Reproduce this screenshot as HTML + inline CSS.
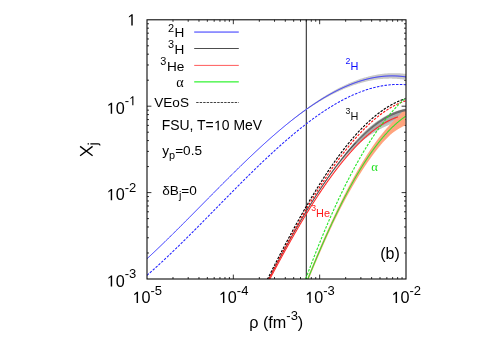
<!DOCTYPE html>
<html><head><meta charset="utf-8"><title>chart</title>
<style>html,body{margin:0;padding:0;background:#fff}body{width:498px;height:349px;overflow:hidden;font-family:"Liberation Sans",sans-serif}svg text{font-family:"Liberation Sans",sans-serif}</style></head>
<body>
<svg width="498" height="349" viewBox="0 0 498 349" style="display:block;font-family:'Liberation Sans',sans-serif;will-change:transform">
<rect width="498" height="349" fill="#fff"/>
<defs><clipPath id="c"><rect x="147.0" y="19.8" width="259.0" height="259.2"/></clipPath></defs>
<path d="M172.99,279.0v-2.0M172.99,19.8v2.0M147.0,80.19h2.0M406.0,80.19h-2.0M188.19,279.0v-2.0M188.19,19.8v2.0M147.0,64.98h2.0M406.0,64.98h-2.0M198.98,279.0v-2.0M198.98,19.8v2.0M147.0,54.18h2.0M406.0,54.18h-2.0M207.34,279.0v-2.0M207.34,19.8v2.0M147.0,45.81h2.0M406.0,45.81h-2.0M214.18,279.0v-2.0M214.18,19.8v2.0M147.0,38.97h2.0M406.0,38.97h-2.0M219.96,279.0v-2.0M219.96,19.8v2.0M147.0,33.18h2.0M406.0,33.18h-2.0M224.97,279.0v-2.0M224.97,19.8v2.0M147.0,28.17h2.0M406.0,28.17h-2.0M229.38,279.0v-2.0M229.38,19.8v2.0M147.0,23.75h2.0M406.0,23.75h-2.0M233.33,279.0v-4.4M233.33,19.8v4.4M147.0,106.20h4.4M406.0,106.20h-4.4M259.32,279.0v-2.0M259.32,19.8v2.0M147.0,166.59h2.0M406.0,166.59h-2.0M274.52,279.0v-2.0M274.52,19.8v2.0M147.0,151.38h2.0M406.0,151.38h-2.0M285.31,279.0v-2.0M285.31,19.8v2.0M147.0,140.58h2.0M406.0,140.58h-2.0M293.68,279.0v-2.0M293.68,19.8v2.0M147.0,132.21h2.0M406.0,132.21h-2.0M300.51,279.0v-2.0M300.51,19.8v2.0M147.0,125.37h2.0M406.0,125.37h-2.0M306.29,279.0v-2.0M306.29,19.8v2.0M147.0,119.58h2.0M406.0,119.58h-2.0M311.30,279.0v-2.0M311.30,19.8v2.0M147.0,114.57h2.0M406.0,114.57h-2.0M315.72,279.0v-2.0M315.72,19.8v2.0M147.0,110.15h2.0M406.0,110.15h-2.0M319.67,279.0v-4.4M319.67,19.8v4.4M147.0,192.60h4.4M406.0,192.60h-4.4M345.66,279.0v-2.0M345.66,19.8v2.0M147.0,252.99h2.0M406.0,252.99h-2.0M360.86,279.0v-2.0M360.86,19.8v2.0M147.0,237.78h2.0M406.0,237.78h-2.0M371.64,279.0v-2.0M371.64,19.8v2.0M147.0,226.98h2.0M406.0,226.98h-2.0M380.01,279.0v-2.0M380.01,19.8v2.0M147.0,218.61h2.0M406.0,218.61h-2.0M386.85,279.0v-2.0M386.85,19.8v2.0M147.0,211.77h2.0M406.0,211.77h-2.0M392.63,279.0v-2.0M392.63,19.8v2.0M147.0,205.98h2.0M406.0,205.98h-2.0M397.63,279.0v-2.0M397.63,19.8v2.0M147.0,200.97h2.0M406.0,200.97h-2.0M402.05,279.0v-2.0M402.05,19.8v2.0M147.0,196.55h2.0M406.0,196.55h-2.0" stroke="#000" stroke-width="0.8" fill="none"/>
<line x1="306.29" y1="19.8" x2="306.29" y2="279.0" stroke="#1a1a1a" stroke-width="1"/>
<g clip-path="url(#c)" fill="none" stroke-linejoin="round">
<path d="M147.00,258.73 L147.65,258.12 L148.30,257.52 L148.95,256.92 L149.60,256.32 L150.25,255.71 L150.89,255.10 L151.54,254.50 L152.19,253.89 L152.84,253.28 L153.49,252.66 L154.14,252.05 L154.79,251.44 L155.44,250.82 L156.09,250.21 L156.74,249.59 L157.39,248.97 L158.04,248.35 L158.68,247.73 L159.33,247.11 L159.98,246.49 L160.63,245.86 L161.28,245.24 L161.93,244.61 L162.58,243.98 L163.23,243.36 L163.88,242.73 L164.53,242.10 L165.18,241.47 L165.82,240.84 L166.47,240.20 L167.12,239.57 L167.77,238.94 L168.42,238.30 L169.07,237.66 L169.72,237.03 L170.37,236.39 L171.02,235.75 L171.67,235.11 L172.32,234.47 L172.96,233.83 L173.61,233.19 L174.26,232.55 L174.91,231.91 L175.56,231.26 L176.21,230.62 L176.86,229.97 L177.51,229.33 L178.16,228.68 L178.81,228.04 L179.46,227.39 L180.11,226.74 L180.75,226.09 L181.40,225.45 L182.05,224.80 L182.70,224.15 L183.35,223.50 L184.00,222.85 L184.65,222.19 L185.30,221.54 L185.95,220.89 L186.60,220.24 L187.25,219.59 L187.89,218.93 L188.54,218.28 L189.19,217.63 L189.84,216.97 L190.49,216.32 L191.14,215.66 L191.79,215.01 L192.44,214.35 L193.09,213.70 L193.74,213.04 L194.39,212.38 L195.04,211.73 L195.68,211.07 L196.33,210.41 L196.98,209.76 L197.63,209.10 L198.28,208.44 L198.93,207.79 L199.58,207.13 L200.23,206.47 L200.88,205.81 L201.53,205.16 L202.18,204.50 L202.82,203.84 L203.47,203.18 L204.12,202.52 L204.77,201.87 L205.42,201.21 L206.07,200.55 L206.72,199.89 L207.37,199.24 L208.02,198.58 L208.67,197.92 L209.32,197.27 L209.96,196.61 L210.61,195.95 L211.26,195.30 L211.91,194.64 L212.56,193.98 L213.21,193.33 L213.86,192.67 L214.51,192.02 L215.16,191.36 L215.81,190.71 L216.46,190.05 L217.11,189.40 L217.75,188.74 L218.40,188.09 L219.05,187.44 L219.70,186.78 L220.35,186.13 L221.00,185.48 L221.65,184.83 L222.30,184.18 L222.95,183.53 L223.60,182.88 L224.25,182.23 L224.89,181.58 L225.54,180.93 L226.19,180.28 L226.84,179.63 L227.49,178.98 L228.14,178.34 L228.79,177.69 L229.44,177.05 L230.09,176.40 L230.74,175.76 L231.39,175.12 L232.04,174.47 L232.68,173.83 L233.33,173.19 L233.98,172.55 L234.63,171.91 L235.28,171.27 L235.93,170.63 L236.58,169.99 L237.23,169.36 L237.88,168.72 L238.53,168.09 L239.18,167.45 L239.82,166.82 L240.47,166.19 L241.12,165.56 L241.77,164.92 L242.42,164.29 L243.07,163.67 L243.72,163.04 L244.37,162.41 L245.02,161.79 L245.67,161.16 L246.32,160.54 L246.96,159.91 L247.61,159.29 L248.26,158.67 L248.91,158.05 L249.56,157.43 L250.21,156.82 L250.86,156.20 L251.51,155.58 L252.16,154.97 L252.81,154.36 L253.46,153.75 L254.11,153.14 L254.75,152.53 L255.40,151.92 L256.05,151.31 L256.70,150.71 L257.35,150.10 L258.00,149.50 L258.65,148.90 L259.30,148.30 L259.95,147.70 L260.60,147.10 L261.25,146.50 L261.89,145.91 L262.54,145.32 L263.19,144.72 L263.84,144.13 L264.49,143.54 L265.14,142.96 L265.79,142.37 L266.44,141.79 L267.09,141.20 L267.74,140.62 L268.39,140.04 L269.04,139.46 L269.68,138.89 L270.33,138.31 L270.98,137.74 L271.63,137.16 L272.28,136.59 L272.93,136.03 L273.58,135.46 L274.23,134.89 L274.88,134.33 L275.53,133.77 L276.18,133.21 L276.82,132.65 L277.47,132.09 L278.12,131.54 L278.77,130.98 L279.42,130.43 L280.07,129.88 L280.72,129.33 L281.37,128.79 L282.02,128.24 L282.67,127.70 L283.32,127.16 L283.96,126.62 L284.61,126.09 L285.26,125.54 L285.91,124.99 L286.56,124.44 L287.21,123.89 L287.86,123.34 L288.51,122.80 L289.16,122.26 L289.81,121.71 L290.46,121.18 L291.11,120.64 L291.75,120.10 L292.40,119.57 L293.05,119.04 L293.70,118.51 L294.35,117.99 L295.00,117.46 L295.65,116.94 L296.30,116.42 L296.95,115.90 L297.60,115.39 L298.25,114.87 L298.89,114.36 L299.54,113.85 L300.19,113.35 L300.84,112.85 L301.49,112.34 L302.14,111.84 L302.79,111.35 L303.44,110.85 L304.09,110.36 L304.74,109.87 L305.39,109.38 L306.04,108.90 L306.68,108.42 L307.33,107.94 L307.98,107.46 L308.63,106.99 L309.28,106.51 L309.93,106.04 L310.58,105.58 L311.23,105.12 L311.88,104.66 L312.53,104.21 L313.18,103.75 L313.82,103.30 L314.47,102.85 L315.12,102.41 L315.77,101.97 L316.42,101.53 L317.07,101.09 L317.72,100.65 L318.37,100.22 L319.02,99.79 L319.67,99.37 L320.32,98.94 L320.96,98.52 L321.61,98.10 L322.26,97.69 L322.91,97.28 L323.56,96.87 L324.21,96.46 L324.86,96.06 L325.51,95.66 L326.16,95.26 L326.81,94.86 L327.46,94.47 L328.11,94.08 L328.75,93.70 L329.40,93.32 L330.05,92.94 L330.70,92.56 L331.35,92.19 L332.00,91.81 L332.65,91.45 L333.30,91.08 L333.95,90.72 L334.60,90.36 L335.25,90.01 L335.89,89.66 L336.54,89.31 L337.19,88.96 L337.84,88.62 L338.49,88.28 L339.14,87.94 L339.79,87.61 L340.44,87.28 L341.09,86.96 L341.74,86.64 L342.39,86.32 L343.04,86.00 L343.68,85.69 L344.33,85.38 L344.98,85.08 L345.63,84.78 L346.28,84.48 L346.93,84.18 L347.58,83.89 L348.23,83.60 L348.88,83.32 L349.53,83.04 L350.18,82.76 L350.82,82.49 L351.47,82.22 L352.12,81.95 L352.77,81.69 L353.42,81.43 L354.07,81.17 L354.72,80.92 L355.37,80.67 L356.02,80.42 L356.67,80.19 L357.32,79.95 L357.96,79.72 L358.61,79.49 L359.26,79.27 L359.91,79.05 L360.56,78.83 L361.21,78.62 L361.86,78.41 L362.51,78.21 L363.16,78.00 L363.81,77.81 L364.46,77.61 L365.11,77.42 L365.75,77.24 L366.40,77.06 L367.05,76.88 L367.70,76.70 L368.35,76.53 L369.00,76.37 L369.65,76.20 L370.30,76.05 L370.95,75.89 L371.60,75.74 L372.25,75.60 L372.89,75.45 L373.54,75.31 L374.19,75.18 L374.84,75.05 L375.49,74.92 L376.14,74.80 L376.79,74.69 L377.44,74.57 L378.09,74.46 L378.74,74.36 L379.39,74.26 L380.04,74.16 L380.68,74.07 L381.33,73.98 L381.98,73.90 L382.63,73.82 L383.28,73.74 L383.93,73.67 L384.58,73.60 L385.23,73.54 L385.88,73.48 L386.53,73.43 L387.18,73.38 L387.82,73.33 L388.47,73.29 L389.12,73.26 L389.77,73.23 L390.42,73.20 L391.07,73.18 L391.72,73.16 L392.37,73.15 L393.02,73.14 L393.67,73.14 L394.32,73.14 L394.96,73.14 L395.61,73.15 L396.26,73.17 L396.91,73.19 L397.56,73.21 L398.21,73.24 L398.86,73.27 L399.51,73.31 L400.16,73.36 L400.81,73.40 L401.46,73.46 L402.11,73.51 L402.75,73.57 L403.40,73.64 L404.05,73.71 L404.70,73.79 L405.35,73.87 L406.00,73.96 L406.00,79.96 L405.35,79.84 L404.70,79.74 L404.05,79.64 L403.40,79.54 L402.75,79.45 L402.11,79.37 L401.46,79.29 L400.81,79.21 L400.16,79.14 L399.51,79.07 L398.86,79.01 L398.21,78.95 L397.56,78.90 L396.91,78.85 L396.26,78.80 L395.61,78.76 L394.96,78.73 L394.32,78.70 L393.67,78.67 L393.02,78.65 L392.37,78.64 L391.72,78.62 L391.07,78.62 L390.42,78.61 L389.77,78.62 L389.12,78.62 L388.47,78.63 L387.82,78.64 L387.18,78.66 L386.53,78.68 L385.88,78.71 L385.23,78.74 L384.58,78.78 L383.93,78.82 L383.28,78.86 L382.63,78.91 L381.98,78.96 L381.33,79.02 L380.68,79.08 L380.04,79.15 L379.39,79.22 L378.74,79.29 L378.09,79.37 L377.44,79.45 L376.79,79.54 L376.14,79.63 L375.49,79.73 L374.84,79.83 L374.19,79.93 L373.54,80.04 L372.89,80.15 L372.25,80.26 L371.60,80.38 L370.95,80.51 L370.30,80.63 L369.65,80.77 L369.00,80.90 L368.35,81.04 L367.70,81.18 L367.05,81.33 L366.40,81.48 L365.75,81.64 L365.11,81.80 L364.46,81.96 L363.81,82.13 L363.16,82.30 L362.51,82.47 L361.86,82.65 L361.21,82.83 L360.56,83.02 L359.91,83.21 L359.26,83.40 L358.61,83.60 L357.96,83.80 L357.32,84.01 L356.67,84.21 L356.02,84.43 L355.37,84.64 L354.72,84.85 L354.07,85.07 L353.42,85.30 L352.77,85.53 L352.12,85.76 L351.47,85.99 L350.82,86.23 L350.18,86.47 L349.53,86.72 L348.88,86.96 L348.23,87.22 L347.58,87.47 L346.93,87.73 L346.28,87.99 L345.63,88.26 L344.98,88.53 L344.33,88.80 L343.68,89.08 L343.04,89.35 L342.39,89.64 L341.74,89.92 L341.09,90.21 L340.44,90.51 L339.79,90.80 L339.14,91.10 L338.49,91.40 L337.84,91.70 L337.19,92.01 L336.54,92.32 L335.89,92.64 L335.25,92.95 L334.60,93.27 L333.95,93.60 L333.30,93.93 L332.65,94.26 L332.00,94.59 L331.35,94.92 L330.70,95.26 L330.05,95.61 L329.40,95.95 L328.75,96.30 L328.11,96.65 L327.46,97.00 L326.81,97.36 L326.16,97.72 L325.51,98.08 L324.86,98.45 L324.21,98.82 L323.56,99.19 L322.91,99.57 L322.26,99.94 L321.61,100.32 L320.96,100.71 L320.32,101.09 L319.67,101.48 L319.02,101.87 L318.37,102.27 L317.72,102.67 L317.07,103.07 L316.42,103.47 L315.77,103.87 L315.12,104.28 L314.47,104.69 L313.82,105.11 L313.18,105.52 L312.53,105.94 L311.88,106.36 L311.23,106.78 L310.58,107.21 L309.93,107.64 L309.28,108.07 L308.63,108.50 L307.98,108.93 L307.33,109.37 L306.68,109.81 L306.04,110.25 L305.39,110.69 L304.74,111.14 L304.09,111.58 L303.44,112.03 L302.79,112.49 L302.14,112.94 L301.49,113.40 L300.84,113.86 L300.19,114.32 L299.54,114.79 L298.89,115.25 L298.25,115.72 L297.60,116.19 L296.95,116.67 L296.30,117.14 L295.65,117.62 L295.00,118.10 L294.35,118.58 L293.70,119.07 L293.05,119.56 L292.40,120.04 L291.75,120.54 L291.11,121.03 L290.46,121.52 L289.81,122.02 L289.16,122.52 L288.51,123.02 L287.86,123.53 L287.21,124.03 L286.56,124.54 L285.91,125.05 L285.26,125.56 L284.61,126.09 L283.96,126.62 L283.32,127.16 L282.67,127.70 L282.02,128.24 L281.37,128.79 L280.72,129.33 L280.07,129.88 L279.42,130.43 L278.77,130.98 L278.12,131.54 L277.47,132.09 L276.82,132.65 L276.18,133.21 L275.53,133.77 L274.88,134.33 L274.23,134.89 L273.58,135.46 L272.93,136.03 L272.28,136.59 L271.63,137.16 L270.98,137.74 L270.33,138.31 L269.68,138.89 L269.04,139.46 L268.39,140.04 L267.74,140.62 L267.09,141.20 L266.44,141.79 L265.79,142.37 L265.14,142.96 L264.49,143.54 L263.84,144.13 L263.19,144.72 L262.54,145.32 L261.89,145.91 L261.25,146.50 L260.60,147.10 L259.95,147.70 L259.30,148.30 L258.65,148.90 L258.00,149.50 L257.35,150.10 L256.70,150.71 L256.05,151.31 L255.40,151.92 L254.75,152.53 L254.11,153.14 L253.46,153.75 L252.81,154.36 L252.16,154.97 L251.51,155.58 L250.86,156.20 L250.21,156.82 L249.56,157.43 L248.91,158.05 L248.26,158.67 L247.61,159.29 L246.96,159.91 L246.32,160.54 L245.67,161.16 L245.02,161.79 L244.37,162.41 L243.72,163.04 L243.07,163.67 L242.42,164.29 L241.77,164.92 L241.12,165.56 L240.47,166.19 L239.82,166.82 L239.18,167.45 L238.53,168.09 L237.88,168.72 L237.23,169.36 L236.58,169.99 L235.93,170.63 L235.28,171.27 L234.63,171.91 L233.98,172.55 L233.33,173.19 L232.68,173.83 L232.04,174.47 L231.39,175.12 L230.74,175.76 L230.09,176.40 L229.44,177.05 L228.79,177.69 L228.14,178.34 L227.49,178.98 L226.84,179.63 L226.19,180.28 L225.54,180.93 L224.89,181.58 L224.25,182.23 L223.60,182.88 L222.95,183.53 L222.30,184.18 L221.65,184.83 L221.00,185.48 L220.35,186.13 L219.70,186.78 L219.05,187.44 L218.40,188.09 L217.75,188.74 L217.11,189.40 L216.46,190.05 L215.81,190.71 L215.16,191.36 L214.51,192.02 L213.86,192.67 L213.21,193.33 L212.56,193.98 L211.91,194.64 L211.26,195.30 L210.61,195.95 L209.96,196.61 L209.32,197.27 L208.67,197.92 L208.02,198.58 L207.37,199.24 L206.72,199.89 L206.07,200.55 L205.42,201.21 L204.77,201.87 L204.12,202.52 L203.47,203.18 L202.82,203.84 L202.18,204.50 L201.53,205.16 L200.88,205.81 L200.23,206.47 L199.58,207.13 L198.93,207.79 L198.28,208.44 L197.63,209.10 L196.98,209.76 L196.33,210.41 L195.68,211.07 L195.04,211.73 L194.39,212.38 L193.74,213.04 L193.09,213.70 L192.44,214.35 L191.79,215.01 L191.14,215.66 L190.49,216.32 L189.84,216.97 L189.19,217.63 L188.54,218.28 L187.89,218.93 L187.25,219.59 L186.60,220.24 L185.95,220.89 L185.30,221.54 L184.65,222.19 L184.00,222.85 L183.35,223.50 L182.70,224.15 L182.05,224.80 L181.40,225.45 L180.75,226.09 L180.11,226.74 L179.46,227.39 L178.81,228.04 L178.16,228.68 L177.51,229.33 L176.86,229.97 L176.21,230.62 L175.56,231.26 L174.91,231.91 L174.26,232.55 L173.61,233.19 L172.96,233.83 L172.32,234.47 L171.67,235.11 L171.02,235.75 L170.37,236.39 L169.72,237.03 L169.07,237.66 L168.42,238.30 L167.77,238.94 L167.12,239.57 L166.47,240.20 L165.82,240.84 L165.18,241.47 L164.53,242.10 L163.88,242.73 L163.23,243.36 L162.58,243.98 L161.93,244.61 L161.28,245.24 L160.63,245.86 L159.98,246.49 L159.33,247.11 L158.68,247.73 L158.04,248.35 L157.39,248.97 L156.74,249.59 L156.09,250.21 L155.44,250.82 L154.79,251.44 L154.14,252.05 L153.49,252.66 L152.84,253.28 L152.19,253.89 L151.54,254.50 L150.89,255.10 L150.25,255.71 L149.60,256.32 L148.95,256.92 L148.30,257.52 L147.65,258.12 L147.00,258.73Z" fill="#c8c8c8" stroke="none"/>
<path d="M268.60,278.81 L268.94,278.15 L269.29,277.49 L269.63,276.84 L269.97,276.18 L270.32,275.52 L270.66,274.87 L271.00,274.21 L271.35,273.56 L271.69,272.90 L272.03,272.25 L272.38,271.60 L272.72,270.94 L273.06,270.29 L273.41,269.64 L273.75,268.99 L274.09,268.34 L274.44,267.69 L274.78,267.04 L275.12,266.39 L275.47,265.75 L275.81,265.10 L276.15,264.45 L276.50,263.81 L276.84,263.16 L277.18,262.52 L277.53,261.87 L277.87,261.23 L278.21,260.59 L278.56,259.95 L278.90,259.31 L279.24,258.67 L279.59,258.03 L279.93,257.39 L280.27,256.75 L280.62,256.11 L280.96,255.47 L281.30,254.84 L281.65,254.20 L281.99,253.57 L282.33,252.93 L282.68,252.30 L283.02,251.67 L283.36,251.04 L283.71,250.40 L284.05,249.77 L284.39,249.14 L284.74,248.52 L285.08,247.89 L285.42,247.26 L285.77,246.63 L286.11,246.01 L286.45,245.38 L286.80,244.76 L287.14,244.14 L287.48,243.51 L287.83,242.89 L288.17,242.27 L288.51,241.65 L288.86,241.03 L289.20,240.41 L289.54,239.79 L289.89,239.18 L290.23,238.56 L290.57,237.95 L290.92,237.33 L291.26,236.72 L291.61,236.11 L291.95,235.49 L292.29,234.88 L292.64,234.27 L292.98,233.66 L293.32,233.05 L293.67,232.45 L294.01,231.84 L294.35,231.23 L294.70,230.63 L295.04,230.03 L295.38,229.42 L295.73,228.82 L296.07,228.22 L296.41,227.62 L296.76,227.02 L297.10,226.42 L297.44,225.82 L297.79,225.23 L298.13,224.63 L298.47,224.04 L298.82,223.44 L299.16,222.85 L299.50,222.26 L299.85,221.67 L300.19,221.08 L300.53,220.49 L300.88,219.90 L301.22,219.31 L301.56,218.73 L301.91,218.14 L302.25,217.56 L302.59,216.98 L302.94,216.39 L303.28,215.81 L303.62,215.23 L303.97,214.65 L304.31,214.08 L304.65,213.50 L305.00,212.92 L305.34,212.35 L305.68,211.77 L306.03,211.20 L306.37,210.63 L306.71,210.06 L307.06,209.49 L307.40,208.92 L307.74,208.35 L308.09,207.79 L308.43,207.22 L308.77,206.66 L309.12,206.09 L309.46,205.53 L309.80,204.97 L310.15,204.41 L310.49,203.85 L310.83,203.29 L311.18,202.74 L311.52,202.18 L311.86,201.63 L312.21,201.08 L312.55,200.52 L312.89,199.97 L313.24,199.42 L313.58,198.87 L313.92,198.33 L314.27,197.78 L314.61,197.24 L314.95,196.69 L315.30,196.15 L315.64,195.61 L315.98,195.07 L316.33,194.53 L316.67,193.99 L317.01,193.45 L317.36,192.92 L317.70,192.38 L318.04,191.85 L318.39,191.32 L318.73,190.79 L319.07,190.26 L319.42,189.73 L319.76,189.20 L320.10,188.68 L320.45,188.15 L320.79,187.62 L321.13,187.09 L321.48,186.56 L321.82,186.03 L322.16,185.51 L322.51,184.98 L322.85,184.46 L323.19,183.94 L323.54,183.42 L323.88,182.90 L324.22,182.38 L324.57,181.87 L324.91,181.35 L325.25,180.84 L325.60,180.33 L325.94,179.82 L326.28,179.31 L326.63,178.80 L326.97,178.29 L327.31,177.79 L327.66,177.28 L328.00,176.78 L328.34,176.28 L328.69,175.78 L329.03,175.28 L329.37,174.79 L329.72,174.29 L330.06,173.79 L330.40,173.30 L330.75,172.81 L331.09,172.32 L331.43,171.83 L331.78,171.34 L332.12,170.86 L332.46,170.37 L332.81,169.89 L333.15,169.41 L333.49,168.93 L333.84,168.45 L334.18,167.97 L334.52,167.49 L334.87,167.02 L335.21,166.54 L335.55,166.07 L335.90,165.59 L336.24,165.12 L336.58,164.65 L336.93,164.18 L337.27,163.71 L337.62,163.24 L337.96,162.78 L338.30,162.31 L338.65,161.85 L338.99,161.39 L339.33,160.93 L339.68,160.47 L340.02,160.01 L340.36,159.56 L340.71,159.10 L341.05,158.65 L341.39,158.20 L341.74,157.75 L342.08,157.30 L342.42,156.86 L342.77,156.41 L343.11,155.97 L343.45,155.53 L343.80,155.09 L344.14,154.65 L344.48,154.21 L344.83,153.78 L345.17,153.34 L345.51,152.91 L345.86,152.48 L346.20,152.05 L346.54,151.62 L346.89,151.20 L347.23,150.77 L347.57,150.35 L347.92,149.93 L348.26,149.51 L348.60,149.10 L348.95,148.68 L349.29,148.27 L349.63,147.85 L349.98,147.44 L350.32,147.03 L350.66,146.63 L351.01,146.22 L351.35,145.82 L351.69,145.42 L352.04,145.02 L352.38,144.62 L352.72,144.22 L353.07,143.83 L353.41,143.43 L353.75,143.04 L354.10,142.65 L354.44,142.27 L354.78,141.88 L355.13,141.49 L355.47,141.11 L355.81,140.73 L356.16,140.35 L356.50,139.97 L356.84,139.60 L357.19,139.22 L357.53,138.85 L357.87,138.48 L358.22,138.11 L358.56,137.75 L358.90,137.38 L359.25,137.02 L359.59,136.65 L359.93,136.29 L360.28,135.94 L360.62,135.58 L360.96,135.23 L361.31,134.87 L361.65,134.52 L361.99,134.17 L362.34,133.83 L362.68,133.48 L363.02,133.14 L363.37,132.80 L363.71,132.46 L364.05,132.12 L364.40,131.78 L364.74,131.45 L365.08,131.11 L365.43,130.78 L365.77,130.46 L366.11,130.13 L366.46,129.83 L366.80,129.52 L367.14,129.22 L367.49,128.91 L367.83,128.61 L368.17,128.31 L368.52,128.02 L368.86,127.72 L369.20,127.43 L369.55,127.14 L369.89,126.85 L370.23,126.56 L370.58,126.28 L370.92,125.99 L371.26,125.71 L371.61,125.43 L371.95,125.15 L372.29,124.88 L372.64,124.61 L372.98,124.33 L373.32,124.06 L373.67,123.80 L374.01,123.53 L374.35,123.27 L374.70,123.01 L375.04,122.75 L375.38,122.50 L375.73,122.26 L376.07,122.01 L376.41,121.77 L376.76,121.53 L377.10,121.30 L377.44,121.06 L377.79,120.83 L378.13,120.60 L378.47,120.37 L378.82,120.15 L379.16,119.92 L379.50,119.70 L379.85,119.48 L380.19,119.26 L380.53,119.04 L380.88,118.83 L381.22,118.62 L381.56,118.41 L381.91,118.20 L382.25,117.99 L382.59,117.78 L382.94,117.57 L383.28,117.36 L383.63,117.16 L383.97,116.95 L384.31,116.75 L384.66,116.56 L385.00,116.36 L385.34,116.16 L385.69,115.97 L386.03,115.78 L386.37,115.59 L386.72,115.41 L387.06,115.23 L387.40,115.04 L387.75,114.87 L388.09,114.69 L388.43,114.51 L388.78,114.34 L389.12,114.17 L389.46,114.00 L389.81,113.84 L390.15,113.67 L390.49,113.51 L390.84,113.35 L391.18,113.19 L391.52,113.04 L391.87,112.89 L392.21,112.74 L392.55,112.59 L392.90,112.45 L393.24,112.31 L393.58,112.17 L393.93,112.03 L394.27,111.89 L394.61,111.76 L394.96,111.63 L395.30,111.50 L395.64,111.38 L395.99,111.25 L396.33,111.13 L396.67,111.01 L397.02,110.89 L397.36,110.78 L397.70,110.67 L398.05,110.56 L398.39,110.45 L398.73,110.34 L399.08,110.24 L399.42,110.14 L399.76,110.04 L400.11,109.94 L400.45,109.84 L400.79,109.74 L401.14,109.64 L401.48,109.55 L401.82,109.46 L402.17,109.37 L402.51,109.28 L402.85,109.19 L403.20,109.11 L403.54,109.03 L403.88,108.95 L404.23,108.88 L404.57,108.80 L404.91,108.73 L405.26,108.66 L405.60,108.60 L405.60,117.18 L405.26,117.31 L404.91,117.45 L404.57,117.59 L404.23,117.73 L403.88,117.87 L403.54,118.02 L403.20,118.17 L402.85,118.32 L402.51,118.48 L402.17,118.63 L401.82,118.79 L401.48,118.95 L401.14,119.12 L400.79,119.28 L400.45,119.45 L400.11,119.62 L399.76,119.80 L399.42,119.97 L399.08,120.15 L398.73,120.33 L398.39,120.51 L398.05,120.70 L397.70,120.84 L397.36,120.97 L397.02,121.11 L396.67,121.25 L396.33,121.40 L395.99,121.54 L395.64,121.69 L395.30,121.84 L394.96,121.99 L394.61,122.15 L394.27,122.30 L393.93,122.46 L393.58,122.62 L393.24,122.79 L392.90,122.95 L392.55,123.12 L392.21,123.29 L391.87,123.46 L391.52,123.64 L391.18,123.81 L390.84,123.99 L390.49,124.17 L390.15,124.36 L389.81,124.54 L389.46,124.73 L389.12,124.92 L388.78,125.08 L388.43,125.21 L388.09,125.35 L387.75,125.49 L387.40,125.63 L387.06,125.78 L386.72,125.92 L386.37,126.07 L386.03,126.22 L385.69,126.38 L385.34,126.53 L385.00,126.69 L384.66,126.85 L384.31,127.01 L383.97,127.18 L383.63,127.34 L383.28,127.51 L382.94,127.68 L382.59,127.85 L382.25,128.03 L381.91,128.20 L381.56,128.38 L381.22,128.56 L380.88,128.75 L380.53,128.93 L380.19,129.12 L379.85,129.31 L379.50,129.50 L379.16,129.69 L378.82,129.89 L378.47,130.08 L378.13,130.28 L377.79,130.47 L377.44,130.66 L377.10,130.85 L376.76,131.04 L376.41,131.24 L376.07,131.43 L375.73,131.63 L375.38,131.83 L375.04,132.03 L374.70,132.23 L374.35,132.44 L374.01,132.64 L373.67,132.85 L373.32,133.06 L372.98,133.28 L372.64,133.49 L372.29,133.71 L371.95,133.93 L371.61,134.15 L371.26,134.37 L370.92,134.60 L370.58,134.83 L370.23,135.06 L369.89,135.29 L369.55,135.52 L369.20,135.75 L368.86,135.99 L368.52,136.23 L368.17,136.47 L367.83,136.71 L367.49,136.96 L367.14,137.20 L366.80,137.45 L366.46,137.70 L366.11,137.95 L365.77,138.21 L365.43,138.47 L365.08,138.73 L364.74,138.99 L364.40,139.25 L364.05,139.52 L363.71,139.78 L363.37,140.05 L363.02,140.32 L362.68,140.60 L362.34,140.87 L361.99,141.15 L361.65,141.43 L361.31,141.71 L360.96,141.99 L360.62,142.27 L360.28,142.56 L359.93,142.84 L359.59,143.13 L359.25,143.42 L358.90,143.72 L358.56,144.01 L358.22,144.31 L357.87,144.60 L357.53,144.90 L357.19,145.21 L356.84,145.51 L356.50,145.81 L356.16,146.12 L355.81,146.43 L355.47,146.74 L355.13,147.05 L354.78,147.37 L354.44,147.68 L354.10,148.00 L353.75,148.32 L353.41,148.64 L353.07,148.96 L352.72,149.28 L352.38,149.61 L352.04,149.94 L351.69,150.27 L351.35,150.60 L351.01,150.93 L350.66,151.26 L350.32,151.60 L349.98,151.94 L349.63,152.30 L349.29,152.67 L348.95,153.04 L348.60,153.41 L348.26,153.78 L347.92,154.15 L347.57,154.53 L347.23,154.91 L346.89,155.28 L346.54,155.66 L346.20,156.04 L345.86,156.43 L345.51,156.81 L345.17,157.20 L344.83,157.59 L344.48,157.98 L344.14,158.37 L343.80,158.76 L343.45,159.15 L343.11,159.55 L342.77,159.95 L342.42,160.35 L342.08,160.75 L341.74,161.15 L341.39,161.55 L341.05,161.96 L340.71,162.36 L340.36,162.77 L340.02,163.18 L339.68,163.59 L339.33,164.00 L338.99,164.42 L338.65,164.83 L338.30,165.25 L337.96,165.67 L337.62,166.09 L337.27,166.51 L336.93,166.93 L336.58,167.36 L336.24,167.79 L335.90,168.21 L335.55,168.64 L335.21,169.07 L334.87,169.51 L334.52,169.96 L334.18,170.42 L333.84,170.87 L333.49,171.33 L333.15,171.78 L332.81,172.24 L332.46,172.70 L332.12,173.17 L331.78,173.63 L331.43,174.09 L331.09,174.56 L330.75,175.03 L330.40,175.50 L330.06,175.97 L329.72,176.44 L329.37,176.91 L329.03,177.38 L328.69,177.86 L328.34,178.34 L328.00,178.82 L327.66,179.30 L327.31,179.78 L326.97,180.26 L326.63,180.74 L326.28,181.23 L325.94,181.71 L325.60,182.20 L325.25,182.69 L324.91,183.18 L324.57,183.67 L324.22,184.17 L323.88,184.66 L323.54,185.16 L323.19,185.65 L322.85,186.15 L322.51,186.65 L322.16,187.15 L321.82,187.65 L321.48,188.16 L321.13,188.66 L320.79,189.17 L320.45,189.68 L320.10,190.18 L319.76,190.70 L319.42,191.22 L319.07,191.75 L318.73,192.27 L318.39,192.80 L318.04,193.32 L317.70,193.85 L317.36,194.38 L317.01,194.91 L316.67,195.44 L316.33,195.97 L315.98,196.51 L315.64,197.04 L315.30,197.58 L314.95,198.12 L314.61,198.66 L314.27,199.20 L313.92,199.74 L313.58,200.28 L313.24,200.82 L312.89,201.37 L312.55,201.91 L312.21,202.46 L311.86,203.01 L311.52,203.56 L311.18,204.11 L310.83,204.66 L310.49,205.21 L310.15,205.76 L309.80,206.32 L309.46,206.87 L309.12,207.43 L308.77,207.99 L308.43,208.55 L308.09,209.11 L307.74,209.67 L307.40,210.23 L307.06,210.79 L306.71,211.36 L306.37,211.92 L306.03,212.49 L305.68,213.06 L305.34,213.63 L305.00,214.20 L304.65,214.77 L304.31,215.34 L303.97,215.91 L303.62,216.49 L303.28,217.06 L302.94,217.64 L302.59,218.21 L302.25,218.79 L301.91,219.37 L301.56,219.95 L301.22,220.53 L300.88,221.11 L300.53,221.70 L300.19,222.28 L299.85,222.86 L299.50,223.45 L299.16,224.04 L298.82,224.63 L298.47,225.21 L298.13,225.80 L297.79,226.39 L297.44,226.99 L297.10,227.58 L296.76,228.17 L296.41,228.77 L296.07,229.36 L295.73,229.96 L295.38,230.55 L295.04,231.15 L294.70,231.75 L294.35,232.35 L294.01,232.95 L293.67,233.55 L293.32,234.15 L292.98,234.76 L292.64,235.36 L292.29,235.97 L291.95,236.57 L291.61,237.18 L291.26,237.79 L290.92,238.40 L290.57,239.00 L290.23,239.61 L289.89,240.23 L289.54,240.84 L289.20,241.45 L288.86,242.06 L288.51,242.68 L288.17,243.29 L287.83,243.91 L287.48,244.53 L287.14,245.14 L286.80,245.76 L286.45,246.38 L286.11,247.00 L285.77,247.62 L285.42,248.24 L285.08,248.86 L284.74,249.49 L284.39,250.11 L284.05,250.74 L283.71,251.36 L283.36,251.99 L283.02,252.61 L282.68,253.24 L282.33,253.87 L281.99,254.50 L281.65,255.13 L281.30,255.76 L280.96,256.39 L280.62,257.02 L280.27,257.65 L279.93,258.29 L279.59,258.92 L279.24,259.55 L278.90,260.19 L278.56,260.82 L278.21,261.46 L277.87,262.10 L277.53,262.74 L277.18,263.37 L276.84,264.01 L276.50,264.65 L276.15,265.29 L275.81,265.94 L275.47,266.58 L275.12,267.22 L274.78,267.86 L274.44,268.51 L274.09,269.15 L273.75,269.80 L273.41,270.44 L273.06,271.09 L272.72,271.73 L272.38,272.38 L272.03,273.03 L271.69,273.68 L271.35,274.33 L271.00,274.98 L270.66,275.63 L270.32,276.28 L269.97,276.93 L269.63,277.58 L269.29,278.23 L268.94,278.89 L268.60,279.54Z" fill="#c3c3c3" stroke="none"/>
<path d="M268.60,278.90 L268.94,278.24 L269.29,277.58 L269.63,276.93 L269.97,276.27 L270.32,275.61 L270.66,274.96 L271.00,274.30 L271.35,273.65 L271.69,273.00 L272.03,272.34 L272.38,271.69 L272.72,271.04 L273.06,270.39 L273.41,269.74 L273.75,269.09 L274.09,268.44 L274.44,267.79 L274.78,267.14 L275.12,266.49 L275.47,265.85 L275.81,265.20 L276.15,264.55 L276.50,263.91 L276.84,263.26 L277.18,262.62 L277.53,261.98 L277.87,261.34 L278.21,260.69 L278.56,260.05 L278.90,259.41 L279.24,258.77 L279.59,258.13 L279.93,257.49 L280.27,256.86 L280.62,256.22 L280.96,255.58 L281.30,254.95 L281.65,254.31 L281.99,253.68 L282.33,253.05 L282.68,252.41 L283.02,251.78 L283.36,251.15 L283.71,250.52 L284.05,249.89 L284.39,249.26 L284.74,248.63 L285.08,248.00 L285.42,247.38 L285.77,246.75 L286.11,246.13 L286.45,245.50 L286.80,244.88 L287.14,244.26 L287.48,243.63 L287.83,243.01 L288.17,242.39 L288.51,241.77 L288.86,241.15 L289.20,240.54 L289.54,239.92 L289.89,239.30 L290.23,238.69 L290.57,238.07 L290.92,237.46 L291.26,236.85 L291.61,236.23 L291.95,235.62 L292.29,235.01 L292.64,234.40 L292.98,233.79 L293.32,233.19 L293.67,232.58 L294.01,231.97 L294.35,231.37 L294.70,230.76 L295.04,230.16 L295.38,229.56 L295.73,228.96 L296.07,228.35 L296.41,227.75 L296.76,227.16 L297.10,226.56 L297.44,225.96 L297.79,225.36 L298.13,224.77 L298.47,224.18 L298.82,223.58 L299.16,222.99 L299.50,222.40 L299.85,221.81 L300.19,221.22 L300.53,220.63 L300.88,220.04 L301.22,219.46 L301.56,218.87 L301.91,218.29 L302.25,217.70 L302.59,217.12 L302.94,216.54 L303.28,215.96 L303.62,215.38 L303.97,214.80 L304.31,214.22 L304.65,213.65 L305.00,213.07 L305.34,212.50 L305.68,211.92 L306.03,211.35 L306.37,210.78 L306.71,210.21 L307.06,209.64 L307.40,209.07 L307.74,208.51 L308.09,207.94 L308.43,207.38 L308.77,206.81 L309.12,206.25 L309.46,205.69 L309.80,205.13 L310.15,204.57 L310.49,204.01 L310.83,203.45 L311.18,202.90 L311.52,202.34 L311.86,201.79 L312.21,201.24 L312.55,200.69 L312.89,200.14 L313.24,199.59 L313.58,199.04 L313.92,198.49 L314.27,197.95 L314.61,197.40 L314.95,196.86 L315.30,196.32 L315.64,195.78 L315.98,195.24 L316.33,194.70 L316.67,194.16 L317.01,193.62 L317.36,193.09 L317.70,192.56 L318.04,192.02 L318.39,191.49 L318.73,190.96 L319.07,190.43 L319.42,189.91 L319.76,189.38 L320.10,188.85 L320.45,188.32 L320.79,187.80 L321.13,187.27 L321.48,186.74 L321.82,186.22 L322.16,185.70 L322.51,185.18 L322.85,184.66 L323.19,184.14 L323.54,183.62 L323.88,183.10 L324.22,182.59 L324.57,182.07 L324.91,181.56 L325.25,181.05 L325.60,180.54 L325.94,180.03 L326.28,179.53 L326.63,179.02 L326.97,178.52 L327.31,178.01 L327.66,177.51 L328.00,177.01 L328.34,176.51 L328.69,176.01 L329.03,175.52 L329.37,175.02 L329.72,174.53 L330.06,174.04 L330.40,173.55 L330.75,173.06 L331.09,172.57 L331.43,172.08 L331.78,171.60 L332.12,171.11 L332.46,170.63 L332.81,170.15 L333.15,169.67 L333.49,169.19 L333.84,168.72 L334.18,168.24 L334.52,167.77 L334.87,167.29 L335.21,166.82 L335.55,166.35 L335.90,165.88 L336.24,165.41 L336.58,164.94 L336.93,164.47 L337.27,164.01 L337.62,163.54 L337.96,163.08 L338.30,162.62 L338.65,162.16 L338.99,161.70 L339.33,161.24 L339.68,160.79 L340.02,160.34 L340.36,159.88 L340.71,159.43 L341.05,158.98 L341.39,158.54 L341.74,158.09 L342.08,157.65 L342.42,157.20 L342.77,156.76 L343.11,156.32 L343.45,155.89 L343.80,155.45 L344.14,155.01 L344.48,154.58 L344.83,154.15 L345.17,153.72 L345.51,153.29 L345.86,152.86 L346.20,152.44 L346.54,152.01 L346.89,151.59 L347.23,151.17 L347.57,150.75 L347.92,150.34 L348.26,149.92 L348.60,149.51 L348.95,149.09 L349.29,148.68 L349.63,148.27 L349.98,147.87 L350.32,147.46 L350.66,147.06 L351.01,146.66 L351.35,146.26 L351.69,145.86 L352.04,145.46 L352.38,145.07 L352.72,144.67 L353.07,144.28 L353.41,143.89 L353.75,143.50 L354.10,143.12 L354.44,142.73 L354.78,142.35 L355.13,141.97 L355.47,141.59 L355.81,141.21 L356.16,140.83 L356.50,140.46 L356.84,140.09 L357.19,139.72 L357.53,139.35 L357.87,138.98 L358.22,138.61 L358.56,138.25 L358.90,137.89 L359.25,137.53 L359.59,137.17 L359.93,136.81 L360.28,136.46 L360.62,136.10 L360.96,135.75 L361.31,135.40 L361.65,135.06 L361.99,134.71 L362.34,134.37 L362.68,134.02 L363.02,133.68 L363.37,133.35 L363.71,133.01 L364.05,132.67 L364.40,132.34 L364.74,132.01 L365.08,131.68 L365.43,131.35 L365.77,131.03 L366.11,130.71 L366.46,130.40 L366.80,130.09 L367.14,129.79 L367.49,129.48 L367.83,129.18 L368.17,128.88 L368.52,128.58 L368.86,128.29 L369.20,127.99 L369.55,127.70 L369.89,127.41 L370.23,127.12 L370.58,126.84 L370.92,126.55 L371.26,126.27 L371.61,125.99 L371.95,125.71 L372.29,125.44 L372.64,125.16 L372.98,124.89 L373.32,124.62 L373.67,124.35 L374.01,124.08 L374.35,123.82 L374.70,123.56 L375.04,123.30 L375.38,123.05 L375.73,122.80 L376.07,122.55 L376.41,122.31 L376.76,122.07 L377.10,121.83 L377.44,121.59 L377.79,121.35 L378.13,121.12 L378.47,120.88 L378.82,120.65 L379.16,120.43 L379.50,120.20 L379.85,119.98 L380.19,119.76 L380.53,119.54 L380.88,119.32 L381.22,119.10 L381.56,118.89 L381.91,118.68 L382.25,118.46 L382.59,118.25 L382.94,118.04 L383.28,117.83 L383.63,117.62 L383.97,117.42 L384.31,117.22 L384.66,117.02 L385.00,116.82 L385.34,116.62 L385.69,116.43 L386.03,116.24 L386.37,116.05 L386.72,115.86 L387.06,115.68 L387.40,115.49 L387.75,115.31 L388.09,115.13 L388.43,114.96 L388.78,114.78 L389.12,114.61 L389.46,114.44 L389.81,114.27 L390.15,114.11 L390.49,113.94 L390.84,113.78 L391.18,113.62 L391.52,113.47 L391.87,113.31 L392.21,113.16 L392.55,113.01 L392.90,112.87 L393.24,112.72 L393.58,112.58 L393.93,112.44 L394.27,112.30 L394.61,112.17 L394.96,112.04 L395.30,111.91 L395.64,111.78 L395.99,111.65 L396.33,111.53 L396.67,111.41 L397.02,111.29 L397.36,111.17 L397.70,111.06 L398.05,110.94 L398.39,110.83 L398.73,110.73 L399.08,110.62 L399.42,110.52 L399.76,110.42 L400.11,110.32 L400.45,110.22 L400.79,110.12 L401.14,110.02 L401.48,109.92 L401.82,109.83 L402.17,109.74 L402.51,109.65 L402.85,109.57 L403.20,109.49 L403.54,109.40 L403.88,109.33 L404.23,109.25 L404.57,109.18 L404.91,109.11 L405.26,109.04 L405.60,108.97 L405.60,115.19 L405.26,115.31 L404.91,115.43 L404.57,115.55 L404.23,115.67 L403.88,115.80 L403.54,115.92 L403.20,116.05 L402.85,116.19 L402.51,116.32 L402.17,116.46 L401.82,116.60 L401.48,116.74 L401.14,116.89 L400.79,117.03 L400.45,117.18 L400.11,117.33 L399.76,117.49 L399.42,117.64 L399.08,117.80 L398.73,117.96 L398.39,118.13 L398.05,118.29 L397.70,118.43 L397.36,118.56 L397.02,118.69 L396.67,118.83 L396.33,118.97 L395.99,119.11 L395.64,119.25 L395.30,119.40 L394.96,119.54 L394.61,119.70 L394.27,119.85 L393.93,120.00 L393.58,120.16 L393.24,120.32 L392.90,120.48 L392.55,120.64 L392.21,120.81 L391.87,120.98 L391.52,121.15 L391.18,121.32 L390.84,121.50 L390.49,121.67 L390.15,121.85 L389.81,122.03 L389.46,122.22 L389.12,122.40 L388.78,122.56 L388.43,122.71 L388.09,122.86 L387.75,123.02 L387.40,123.17 L387.06,123.33 L386.72,123.49 L386.37,123.65 L386.03,123.81 L385.69,123.98 L385.34,124.14 L385.00,124.31 L384.66,124.48 L384.31,124.66 L383.97,124.83 L383.63,125.01 L383.28,125.19 L382.94,125.38 L382.59,125.56 L382.25,125.75 L381.91,125.94 L381.56,126.13 L381.22,126.32 L380.88,126.51 L380.53,126.71 L380.19,126.91 L379.85,127.11 L379.50,127.32 L379.16,127.52 L378.82,127.73 L378.47,127.94 L378.13,128.15 L377.79,128.36 L377.44,128.56 L377.10,128.77 L376.76,128.97 L376.41,129.18 L376.07,129.40 L375.73,129.61 L375.38,129.83 L375.04,130.05 L374.70,130.27 L374.35,130.49 L374.01,130.71 L373.67,130.94 L373.32,131.17 L372.98,131.40 L372.64,131.63 L372.29,131.86 L371.95,132.10 L371.61,132.34 L371.26,132.58 L370.92,132.82 L370.58,133.06 L370.23,133.31 L369.89,133.56 L369.55,133.81 L369.20,134.06 L368.86,134.31 L368.52,134.57 L368.17,134.82 L367.83,135.08 L367.49,135.34 L367.14,135.61 L366.80,135.87 L366.46,136.14 L366.11,136.41 L365.77,136.68 L365.43,136.95 L365.08,137.23 L364.74,137.51 L364.40,137.79 L364.05,138.07 L363.71,138.35 L363.37,138.64 L363.02,138.92 L362.68,139.21 L362.34,139.50 L361.99,139.80 L361.65,140.09 L361.31,140.39 L360.96,140.69 L360.62,140.98 L360.28,141.29 L359.93,141.59 L359.59,141.90 L359.25,142.20 L358.90,142.51 L358.56,142.82 L358.22,143.13 L357.87,143.45 L357.53,143.76 L357.19,144.08 L356.84,144.40 L356.50,144.72 L356.16,145.05 L355.81,145.37 L355.47,145.70 L355.13,146.03 L354.78,146.36 L354.44,146.69 L354.10,147.02 L353.75,147.36 L353.41,147.69 L353.07,148.03 L352.72,148.37 L352.38,148.71 L352.04,149.06 L351.69,149.40 L351.35,149.75 L351.01,150.10 L350.66,150.45 L350.32,150.80 L349.98,151.16 L349.63,151.53 L349.29,151.91 L348.95,152.28 L348.60,152.66 L348.26,153.04 L347.92,153.42 L347.57,153.81 L347.23,154.19 L346.89,154.58 L346.54,154.97 L346.20,155.36 L345.86,155.75 L345.51,156.15 L345.17,156.54 L344.83,156.94 L344.48,157.34 L344.14,157.74 L343.80,158.14 L343.45,158.54 L343.11,158.95 L342.77,159.35 L342.42,159.76 L342.08,160.17 L341.74,160.58 L341.39,160.99 L341.05,161.41 L340.71,161.82 L340.36,162.24 L340.02,162.66 L339.68,163.08 L339.33,163.50 L338.99,163.92 L338.65,164.35 L338.30,164.77 L337.96,165.20 L337.62,165.63 L337.27,166.06 L336.93,166.49 L336.58,166.93 L336.24,167.36 L335.90,167.80 L335.55,168.24 L335.21,168.67 L334.87,169.12 L334.52,169.58 L334.18,170.03 L333.84,170.49 L333.49,170.95 L333.15,171.41 L332.81,171.88 L332.46,172.34 L332.12,172.81 L331.78,173.27 L331.43,173.74 L331.09,174.21 L330.75,174.68 L330.40,175.15 L330.06,175.63 L329.72,176.10 L329.37,176.58 L329.03,177.06 L328.69,177.54 L328.34,178.02 L328.00,178.50 L327.66,178.99 L327.31,179.47 L326.97,179.96 L326.63,180.44 L326.28,180.93 L325.94,181.42 L325.60,181.92 L325.25,182.41 L324.91,182.90 L324.57,183.40 L324.22,183.90 L323.88,184.39 L323.54,184.89 L323.19,185.39 L322.85,185.90 L322.51,186.40 L322.16,186.90 L321.82,187.41 L321.48,187.92 L321.13,188.43 L320.79,188.94 L320.45,189.45 L320.10,189.96 L319.76,190.48 L319.42,191.00 L319.07,191.52 L318.73,192.05 L318.39,192.58 L318.04,193.10 L317.70,193.63 L317.36,194.16 L317.01,194.69 L316.67,195.22 L316.33,195.76 L315.98,196.29 L315.64,196.83 L315.30,197.37 L314.95,197.90 L314.61,198.44 L314.27,198.98 L313.92,199.53 L313.58,200.07 L313.24,200.61 L312.89,201.16 L312.55,201.71 L312.21,202.25 L311.86,202.80 L311.52,203.35 L311.18,203.90 L310.83,204.45 L310.49,205.01 L310.15,205.56 L309.80,206.12 L309.46,206.67 L309.12,207.23 L308.77,207.79 L308.43,208.35 L308.09,208.91 L307.74,209.47 L307.40,210.04 L307.06,210.60 L306.71,211.17 L306.37,211.73 L306.03,212.30 L305.68,212.87 L305.34,213.44 L305.00,214.01 L304.65,214.58 L304.31,215.15 L303.97,215.73 L303.62,216.30 L303.28,216.88 L302.94,217.45 L302.59,218.03 L302.25,218.61 L301.91,219.19 L301.56,219.77 L301.22,220.35 L300.88,220.93 L300.53,221.52 L300.19,222.10 L299.85,222.69 L299.50,223.27 L299.16,223.86 L298.82,224.45 L298.47,225.04 L298.13,225.63 L297.79,226.22 L297.44,226.81 L297.10,227.41 L296.76,228.00 L296.41,228.60 L296.07,229.19 L295.73,229.79 L295.38,230.39 L295.04,230.99 L294.70,231.59 L294.35,232.19 L294.01,232.79 L293.67,233.39 L293.32,233.99 L292.98,234.60 L292.64,235.20 L292.29,235.81 L291.95,236.41 L291.61,237.02 L291.26,237.63 L290.92,238.24 L290.57,238.85 L290.23,239.46 L289.89,240.07 L289.54,240.68 L289.20,241.30 L288.86,241.91 L288.51,242.53 L288.17,243.14 L287.83,243.76 L287.48,244.38 L287.14,245.00 L286.80,245.61 L286.45,246.23 L286.11,246.86 L285.77,247.48 L285.42,248.10 L285.08,248.72 L284.74,249.35 L284.39,249.97 L284.05,250.60 L283.71,251.22 L283.36,251.85 L283.02,252.48 L282.68,253.10 L282.33,253.73 L281.99,254.36 L281.65,254.99 L281.30,255.62 L280.96,256.26 L280.62,256.89 L280.27,257.52 L279.93,258.15 L279.59,258.79 L279.24,259.42 L278.90,260.06 L278.56,260.70 L278.21,261.33 L277.87,261.97 L277.53,262.61 L277.18,263.25 L276.84,263.89 L276.50,264.53 L276.15,265.17 L275.81,265.81 L275.47,266.46 L275.12,267.10 L274.78,267.74 L274.44,268.39 L274.09,269.03 L273.75,269.68 L273.41,270.33 L273.06,270.97 L272.72,271.62 L272.38,272.27 L272.03,272.92 L271.69,273.57 L271.35,274.22 L271.00,274.87 L270.66,275.52 L270.32,276.17 L269.97,276.82 L269.63,277.47 L269.29,278.13 L268.94,278.78 L268.60,279.43Z" fill="#ababab" stroke="none"/>
<path d="M307.60,277.48 L307.85,276.86 L308.09,276.25 L308.34,275.64 L308.58,275.04 L308.83,274.43 L309.07,273.82 L309.32,273.21 L309.56,272.61 L309.81,272.00 L310.06,271.40 L310.30,270.79 L310.55,270.19 L310.79,269.59 L311.04,268.98 L311.28,268.38 L311.53,267.78 L311.78,267.18 L312.02,266.59 L312.27,265.99 L312.51,265.39 L312.76,264.79 L313.00,264.20 L313.25,263.60 L313.49,263.01 L313.74,262.41 L313.99,261.82 L314.23,261.23 L314.48,260.64 L314.72,260.05 L314.97,259.46 L315.21,258.87 L315.46,258.28 L315.71,257.69 L315.95,257.11 L316.20,256.52 L316.44,255.94 L316.69,255.35 L316.93,254.77 L317.18,254.19 L317.42,253.60 L317.67,253.02 L317.92,252.44 L318.16,251.86 L318.41,251.28 L318.65,250.71 L318.90,250.13 L319.14,249.55 L319.39,248.98 L319.64,248.40 L319.88,247.83 L320.13,247.26 L320.37,246.68 L320.62,246.11 L320.86,245.54 L321.11,244.97 L321.35,244.40 L321.60,243.83 L321.85,243.27 L322.09,242.70 L322.34,242.14 L322.58,241.57 L322.83,241.01 L323.07,240.44 L323.32,239.88 L323.56,239.32 L323.81,238.76 L324.06,238.20 L324.30,237.64 L324.55,237.08 L324.79,236.53 L325.04,235.97 L325.28,235.42 L325.53,234.86 L325.78,234.31 L326.02,233.75 L326.27,233.20 L326.51,232.65 L326.76,232.10 L327.00,231.55 L327.25,231.00 L327.49,230.46 L327.74,229.91 L327.99,229.36 L328.23,228.82 L328.48,228.28 L328.72,227.73 L328.97,227.19 L329.21,226.65 L329.46,226.11 L329.71,225.57 L329.95,225.03 L330.20,224.49 L330.44,223.96 L330.69,223.42 L330.93,222.89 L331.18,222.35 L331.42,221.82 L331.67,221.29 L331.92,220.76 L332.16,220.23 L332.41,219.70 L332.65,219.17 L332.90,218.64 L333.14,218.12 L333.39,217.59 L333.64,217.07 L333.88,216.54 L334.13,216.02 L334.37,215.50 L334.62,214.98 L334.86,214.46 L335.11,213.94 L335.35,213.42 L335.60,212.90 L335.85,212.39 L336.09,211.87 L336.34,211.36 L336.58,210.85 L336.83,210.34 L337.07,209.82 L337.32,209.31 L337.56,208.81 L337.81,208.30 L338.06,207.79 L338.30,207.28 L338.55,206.78 L338.79,206.27 L339.04,205.77 L339.28,205.27 L339.53,204.77 L339.78,204.27 L340.02,203.77 L340.27,203.27 L340.51,202.76 L340.76,202.26 L341.00,201.76 L341.25,201.26 L341.49,200.77 L341.74,200.27 L341.99,199.77 L342.23,199.28 L342.48,198.78 L342.72,198.29 L342.97,197.80 L343.21,197.31 L343.46,196.82 L343.71,196.33 L343.95,195.84 L344.20,195.36 L344.44,194.87 L344.69,194.39 L344.93,193.90 L345.18,193.42 L345.42,192.94 L345.67,192.46 L345.92,191.98 L346.16,191.50 L346.41,191.03 L346.65,190.55 L346.90,190.07 L347.14,189.60 L347.39,189.13 L347.64,188.66 L347.88,188.19 L348.13,187.72 L348.37,187.25 L348.62,186.78 L348.86,186.31 L349.11,185.85 L349.35,185.38 L349.60,184.92 L349.85,184.46 L350.09,184.00 L350.34,183.54 L350.58,183.08 L350.83,182.62 L351.07,182.17 L351.32,181.71 L351.56,181.26 L351.81,180.80 L352.06,180.35 L352.30,179.90 L352.55,179.45 L352.79,179.00 L353.04,178.56 L353.28,178.11 L353.53,177.66 L353.78,177.22 L354.02,176.78 L354.27,176.34 L354.51,175.90 L354.76,175.46 L355.00,175.02 L355.25,174.58 L355.49,174.14 L355.74,173.71 L355.99,173.28 L356.23,172.84 L356.48,172.41 L356.72,171.98 L356.97,171.55 L357.21,171.12 L357.46,170.70 L357.71,170.27 L357.95,169.85 L358.20,169.42 L358.44,169.00 L358.69,168.58 L358.93,168.16 L359.18,167.74 L359.42,167.33 L359.67,166.91 L359.92,166.49 L360.16,166.08 L360.41,165.66 L360.65,165.24 L360.90,164.83 L361.14,164.41 L361.39,164.00 L361.64,163.59 L361.88,163.18 L362.13,162.77 L362.37,162.36 L362.62,161.96 L362.86,161.55 L363.11,161.15 L363.35,160.74 L363.60,160.34 L363.85,159.94 L364.09,159.54 L364.34,159.14 L364.58,158.75 L364.83,158.35 L365.07,157.96 L365.32,157.56 L365.56,157.17 L365.81,156.78 L366.06,156.39 L366.30,156.00 L366.55,155.62 L366.79,155.23 L367.04,154.84 L367.28,154.46 L367.53,154.08 L367.78,153.70 L368.02,153.32 L368.27,152.94 L368.51,152.56 L368.76,152.19 L369.00,151.81 L369.25,151.44 L369.49,151.07 L369.74,150.70 L369.99,150.33 L370.23,149.96 L370.48,149.59 L370.72,149.22 L370.97,148.86 L371.21,148.50 L371.46,148.13 L371.71,147.77 L371.95,147.41 L372.20,147.05 L372.44,146.70 L372.69,146.34 L372.93,145.99 L373.18,145.63 L373.42,145.28 L373.67,144.93 L373.92,144.58 L374.16,144.23 L374.41,143.88 L374.65,143.54 L374.90,143.19 L375.14,142.85 L375.39,142.51 L375.64,142.17 L375.88,141.83 L376.13,141.49 L376.37,141.15 L376.62,140.82 L376.86,140.48 L377.11,140.15 L377.35,139.82 L377.60,139.49 L377.85,139.16 L378.09,138.83 L378.34,138.51 L378.58,138.19 L378.83,137.87 L379.07,137.55 L379.32,137.23 L379.56,136.92 L379.81,136.60 L380.06,136.29 L380.30,135.98 L380.55,135.67 L380.79,135.36 L381.04,135.05 L381.28,134.74 L381.53,134.44 L381.78,134.13 L382.02,133.83 L382.27,133.53 L382.51,133.23 L382.76,132.93 L383.00,132.63 L383.25,132.33 L383.49,132.04 L383.74,131.74 L383.99,131.45 L384.23,131.16 L384.48,130.87 L384.72,130.58 L384.97,130.29 L385.21,130.01 L385.46,129.72 L385.71,129.44 L385.95,129.16 L386.20,128.88 L386.44,128.60 L386.69,128.32 L386.93,128.04 L387.18,127.77 L387.42,127.49 L387.67,127.22 L387.92,126.95 L388.16,126.68 L388.41,126.41 L388.65,126.14 L388.90,125.87 L389.14,125.61 L389.39,125.33 L389.64,125.06 L389.88,124.80 L390.13,124.53 L390.37,124.26 L390.62,124.00 L390.86,123.73 L391.11,123.47 L391.35,123.21 L391.60,122.95 L391.85,122.69 L392.09,122.43 L392.34,122.17 L392.58,121.91 L392.83,121.65 L393.07,121.39 L393.32,121.13 L393.56,120.87 L393.81,120.62 L394.06,120.36 L394.30,120.11 L394.55,119.86 L394.79,119.61 L395.04,119.36 L395.28,119.11 L395.53,118.87 L395.78,118.62 L396.02,118.38 L396.27,118.14 L396.51,117.90 L396.76,117.66 L397.00,117.42 L397.25,117.18 L397.49,116.95 L397.74,116.71 L397.99,116.48 L398.23,116.21 L398.48,115.94 L398.72,115.67 L398.97,115.40 L399.21,115.13 L399.46,114.87 L399.71,114.60 L399.95,114.34 L400.20,114.08 L400.44,113.82 L400.69,113.56 L400.93,113.30 L401.18,113.05 L401.42,112.79 L401.67,112.54 L401.92,112.29 L402.16,112.04 L402.41,111.79 L402.65,111.54 L402.90,111.30 L403.14,111.05 L403.39,110.81 L403.64,110.56 L403.88,110.32 L404.13,110.10 L404.37,109.91 L404.62,109.71 L404.86,109.52 L405.11,109.32 L405.35,109.13 L405.60,108.94 L405.60,125.21 L405.35,125.32 L405.11,125.43 L404.86,125.54 L404.62,125.66 L404.37,125.77 L404.13,125.89 L403.88,126.01 L403.64,126.13 L403.39,126.25 L403.14,126.37 L402.90,126.49 L402.65,126.62 L402.41,126.74 L402.16,126.87 L401.92,127.00 L401.67,127.13 L401.42,127.26 L401.18,127.39 L400.93,127.53 L400.69,127.66 L400.44,127.80 L400.20,127.94 L399.95,128.08 L399.71,128.22 L399.46,128.36 L399.21,128.51 L398.97,128.65 L398.72,128.80 L398.48,128.95 L398.23,129.10 L397.99,129.25 L397.74,129.40 L397.49,129.55 L397.25,129.71 L397.00,129.86 L396.76,130.02 L396.51,130.18 L396.27,130.34 L396.02,130.50 L395.78,130.66 L395.53,130.83 L395.28,130.99 L395.04,131.16 L394.79,131.33 L394.55,131.50 L394.30,131.67 L394.06,131.84 L393.81,132.01 L393.56,132.19 L393.32,132.36 L393.07,132.54 L392.83,132.72 L392.58,132.90 L392.34,133.08 L392.09,133.26 L391.85,133.47 L391.60,133.69 L391.35,133.92 L391.11,134.14 L390.86,134.37 L390.62,134.59 L390.37,134.82 L390.13,135.05 L389.88,135.28 L389.64,135.52 L389.39,135.75 L389.14,135.99 L388.90,136.22 L388.65,136.46 L388.41,136.70 L388.16,136.94 L387.92,137.18 L387.67,137.43 L387.42,137.67 L387.18,137.92 L386.93,138.16 L386.69,138.41 L386.44,138.66 L386.20,138.91 L385.95,139.16 L385.71,139.42 L385.46,139.67 L385.21,139.93 L384.97,140.19 L384.72,140.44 L384.48,140.70 L384.23,140.97 L383.99,141.23 L383.74,141.49 L383.49,141.76 L383.25,142.02 L383.00,142.29 L382.76,142.56 L382.51,142.83 L382.27,143.10 L382.02,143.38 L381.78,143.66 L381.53,143.95 L381.28,144.25 L381.04,144.54 L380.79,144.83 L380.55,145.13 L380.30,145.43 L380.06,145.72 L379.81,146.02 L379.56,146.32 L379.32,146.63 L379.07,146.93 L378.83,147.23 L378.58,147.54 L378.34,147.85 L378.09,148.15 L377.85,148.46 L377.60,148.78 L377.35,149.09 L377.11,149.40 L376.86,149.72 L376.62,150.03 L376.37,150.35 L376.13,150.67 L375.88,150.99 L375.64,151.31 L375.39,151.63 L375.14,151.95 L374.90,152.28 L374.65,152.60 L374.41,152.93 L374.16,153.26 L373.92,153.59 L373.67,153.92 L373.42,154.25 L373.18,154.59 L372.93,154.92 L372.69,155.26 L372.44,155.60 L372.20,155.94 L371.95,156.27 L371.71,156.61 L371.46,156.94 L371.21,157.28 L370.97,157.62 L370.72,157.96 L370.48,158.30 L370.23,158.64 L369.99,158.98 L369.74,159.32 L369.49,159.67 L369.25,160.01 L369.00,160.36 L368.76,160.71 L368.51,161.06 L368.27,161.41 L368.02,161.77 L367.78,162.12 L367.53,162.47 L367.28,162.83 L367.04,163.19 L366.79,163.55 L366.55,163.91 L366.30,164.27 L366.06,164.63 L365.81,164.99 L365.56,165.36 L365.32,165.72 L365.07,166.09 L364.83,166.46 L364.58,166.83 L364.34,167.20 L364.09,167.57 L363.85,167.95 L363.60,168.32 L363.35,168.70 L363.11,169.07 L362.86,169.45 L362.62,169.83 L362.37,170.21 L362.13,170.60 L361.88,170.98 L361.64,171.36 L361.39,171.75 L361.14,172.14 L360.90,172.52 L360.65,172.91 L360.41,173.30 L360.16,173.69 L359.92,174.09 L359.67,174.48 L359.42,174.87 L359.18,175.27 L358.93,175.66 L358.69,176.06 L358.44,176.45 L358.20,176.85 L357.95,177.25 L357.71,177.65 L357.46,178.06 L357.21,178.46 L356.97,178.86 L356.72,179.27 L356.48,179.68 L356.23,180.08 L355.99,180.49 L355.74,180.90 L355.49,181.32 L355.25,181.73 L355.00,182.14 L354.76,182.56 L354.51,182.97 L354.27,183.39 L354.02,183.81 L353.78,184.23 L353.53,184.65 L353.28,185.07 L353.04,185.49 L352.79,185.92 L352.55,186.34 L352.30,186.77 L352.06,187.20 L351.81,187.63 L351.56,188.06 L351.32,188.49 L351.07,188.92 L350.83,189.35 L350.58,189.79 L350.34,190.22 L350.09,190.66 L349.85,191.09 L349.60,191.53 L349.35,191.97 L349.11,192.41 L348.86,192.86 L348.62,193.30 L348.37,193.74 L348.13,194.19 L347.88,194.63 L347.64,195.08 L347.39,195.53 L347.14,195.98 L346.90,196.43 L346.65,196.88 L346.41,197.33 L346.16,197.79 L345.92,198.24 L345.67,198.70 L345.42,199.16 L345.18,199.61 L344.93,200.07 L344.69,200.53 L344.44,200.99 L344.20,201.46 L343.95,201.92 L343.71,202.38 L343.46,202.85 L343.21,203.31 L342.97,203.78 L342.72,204.25 L342.48,204.72 L342.23,205.19 L341.99,205.66 L341.74,206.13 L341.49,206.61 L341.25,207.08 L341.00,207.56 L340.76,208.04 L340.51,208.51 L340.27,208.99 L340.02,209.47 L339.78,209.96 L339.53,210.45 L339.28,210.94 L339.04,211.44 L338.79,211.93 L338.55,212.43 L338.30,212.92 L338.06,213.42 L337.81,213.92 L337.56,214.42 L337.32,214.92 L337.07,215.42 L336.83,215.92 L336.58,216.43 L336.34,216.93 L336.09,217.44 L335.85,217.94 L335.60,218.45 L335.35,218.96 L335.11,219.47 L334.86,219.98 L334.62,220.49 L334.37,221.00 L334.13,221.51 L333.88,222.03 L333.64,222.54 L333.39,223.06 L333.14,223.58 L332.90,224.09 L332.65,224.61 L332.41,225.13 L332.16,225.65 L331.92,226.17 L331.67,226.70 L331.42,227.22 L331.18,227.74 L330.93,228.27 L330.69,228.80 L330.44,229.32 L330.20,229.85 L329.95,230.38 L329.71,230.91 L329.46,231.44 L329.21,231.97 L328.97,232.50 L328.72,233.04 L328.48,233.57 L328.23,234.11 L327.99,234.64 L327.74,235.18 L327.49,235.72 L327.25,236.26 L327.00,236.80 L326.76,237.34 L326.51,237.88 L326.27,238.42 L326.02,238.97 L325.78,239.51 L325.53,240.05 L325.28,240.60 L325.04,241.15 L324.79,241.69 L324.55,242.24 L324.30,242.79 L324.06,243.34 L323.81,243.89 L323.56,244.45 L323.32,245.00 L323.07,245.55 L322.83,246.11 L322.58,246.66 L322.34,247.22 L322.09,247.77 L321.85,248.33 L321.60,248.89 L321.35,249.45 L321.11,250.01 L320.86,250.57 L320.62,251.13 L320.37,251.70 L320.13,252.26 L319.88,252.82 L319.64,253.39 L319.39,253.96 L319.14,254.52 L318.90,255.09 L318.65,255.66 L318.41,256.23 L318.16,256.80 L317.92,257.37 L317.67,257.94 L317.42,258.51 L317.18,259.09 L316.93,259.66 L316.69,260.24 L316.44,260.81 L316.20,261.39 L315.95,261.97 L315.71,262.54 L315.46,263.12 L315.21,263.70 L314.97,264.28 L314.72,264.86 L314.48,265.45 L314.23,266.03 L313.99,266.61 L313.74,267.20 L313.49,267.78 L313.25,268.37 L313.00,268.95 L312.76,269.54 L312.51,270.13 L312.27,270.72 L312.02,271.31 L311.78,271.90 L311.53,272.49 L311.28,273.08 L311.04,273.67 L310.79,274.26 L310.55,274.86 L310.30,275.45 L310.06,276.05 L309.81,276.64 L309.56,277.24 L309.32,277.84 L309.07,278.44 L308.83,279.04 L308.58,279.64 L308.34,280.24 L308.09,280.84 L307.85,281.44 L307.60,282.04Z" fill="#ffa47e" stroke="none"/>
<path d="M147.00,258.73 L147.65,258.12 L148.30,257.52 L148.95,256.92 L149.60,256.32 L150.25,255.71 L150.89,255.10 L151.54,254.50 L152.19,253.89 L152.84,253.28 L153.49,252.66 L154.14,252.05 L154.79,251.44 L155.44,250.82 L156.09,250.21 L156.74,249.59 L157.39,248.97 L158.04,248.35 L158.68,247.73 L159.33,247.11 L159.98,246.49 L160.63,245.86 L161.28,245.24 L161.93,244.61 L162.58,243.98 L163.23,243.36 L163.88,242.73 L164.53,242.10 L165.18,241.47 L165.82,240.84 L166.47,240.20 L167.12,239.57 L167.77,238.94 L168.42,238.30 L169.07,237.66 L169.72,237.03 L170.37,236.39 L171.02,235.75 L171.67,235.11 L172.32,234.47 L172.96,233.83 L173.61,233.19 L174.26,232.55 L174.91,231.91 L175.56,231.26 L176.21,230.62 L176.86,229.97 L177.51,229.33 L178.16,228.68 L178.81,228.04 L179.46,227.39 L180.11,226.74 L180.75,226.09 L181.40,225.45 L182.05,224.80 L182.70,224.15 L183.35,223.50 L184.00,222.85 L184.65,222.19 L185.30,221.54 L185.95,220.89 L186.60,220.24 L187.25,219.59 L187.89,218.93 L188.54,218.28 L189.19,217.63 L189.84,216.97 L190.49,216.32 L191.14,215.66 L191.79,215.01 L192.44,214.35 L193.09,213.70 L193.74,213.04 L194.39,212.38 L195.04,211.73 L195.68,211.07 L196.33,210.41 L196.98,209.76 L197.63,209.10 L198.28,208.44 L198.93,207.79 L199.58,207.13 L200.23,206.47 L200.88,205.81 L201.53,205.16 L202.18,204.50 L202.82,203.84 L203.47,203.18 L204.12,202.52 L204.77,201.87 L205.42,201.21 L206.07,200.55 L206.72,199.89 L207.37,199.24 L208.02,198.58 L208.67,197.92 L209.32,197.27 L209.96,196.61 L210.61,195.95 L211.26,195.30 L211.91,194.64 L212.56,193.98 L213.21,193.33 L213.86,192.67 L214.51,192.02 L215.16,191.36 L215.81,190.71 L216.46,190.05 L217.11,189.40 L217.75,188.74 L218.40,188.09 L219.05,187.44 L219.70,186.78 L220.35,186.13 L221.00,185.48 L221.65,184.83 L222.30,184.18 L222.95,183.53 L223.60,182.88 L224.25,182.23 L224.89,181.58 L225.54,180.93 L226.19,180.28 L226.84,179.63 L227.49,178.98 L228.14,178.34 L228.79,177.69 L229.44,177.05 L230.09,176.40 L230.74,175.76 L231.39,175.12 L232.04,174.47 L232.68,173.83 L233.33,173.19 L233.98,172.55 L234.63,171.91 L235.28,171.27 L235.93,170.63 L236.58,169.99 L237.23,169.36 L237.88,168.72 L238.53,168.09 L239.18,167.45 L239.82,166.82 L240.47,166.19 L241.12,165.56 L241.77,164.92 L242.42,164.29 L243.07,163.67 L243.72,163.04 L244.37,162.41 L245.02,161.79 L245.67,161.16 L246.32,160.54 L246.96,159.91 L247.61,159.29 L248.26,158.67 L248.91,158.05 L249.56,157.43 L250.21,156.82 L250.86,156.20 L251.51,155.58 L252.16,154.97 L252.81,154.36 L253.46,153.75 L254.11,153.14 L254.75,152.53 L255.40,151.92 L256.05,151.31 L256.70,150.71 L257.35,150.10 L258.00,149.50 L258.65,148.90 L259.30,148.30 L259.95,147.70 L260.60,147.10 L261.25,146.50 L261.89,145.91 L262.54,145.32 L263.19,144.72 L263.84,144.13 L264.49,143.54 L265.14,142.96 L265.79,142.37 L266.44,141.79 L267.09,141.20 L267.74,140.62 L268.39,140.04 L269.04,139.46 L269.68,138.89 L270.33,138.31 L270.98,137.74 L271.63,137.16 L272.28,136.59 L272.93,136.03 L273.58,135.46 L274.23,134.89 L274.88,134.33 L275.53,133.77 L276.18,133.21 L276.82,132.65 L277.47,132.09 L278.12,131.54 L278.77,130.98 L279.42,130.43 L280.07,129.88 L280.72,129.33 L281.37,128.79 L282.02,128.24 L282.67,127.70 L283.32,127.16 L283.96,126.62 L284.61,126.09 L285.26,125.55 L285.91,125.02 L286.56,124.49 L287.21,123.96 L287.86,123.44 L288.51,122.91 L289.16,122.39 L289.81,121.87 L290.46,121.35 L291.11,120.83 L291.75,120.32 L292.40,119.81 L293.05,119.30 L293.70,118.79 L294.35,118.28 L295.00,117.78 L295.65,117.28 L296.30,116.78 L296.95,116.28 L297.60,115.79 L298.25,115.30 L298.89,114.81 L299.54,114.32 L300.19,113.83 L300.84,113.35 L301.49,112.87 L302.14,112.39 L302.79,111.92 L303.44,111.44 L304.09,110.97 L304.74,110.50 L305.39,110.04 L306.04,109.57 L306.68,109.11 L307.33,108.65 L307.98,108.20 L308.63,107.74 L309.28,107.29 L309.93,106.84 L310.58,106.40 L311.23,105.95 L311.88,105.51 L312.53,105.07 L313.18,104.64 L313.82,104.20 L314.47,103.77 L315.12,103.34 L315.77,102.92 L316.42,102.50 L317.07,102.08 L317.72,101.66 L318.37,101.24 L319.02,100.83 L319.67,100.42 L320.32,100.02 L320.96,99.61 L321.61,99.21 L322.26,98.82 L322.91,98.42 L323.56,98.03 L324.21,97.64 L324.86,97.25 L325.51,96.87 L326.16,96.49 L326.81,96.11 L327.46,95.74 L328.11,95.37 L328.75,95.00 L329.40,94.63 L330.05,94.27 L330.70,93.91 L331.35,93.55 L332.00,93.20 L332.65,92.85 L333.30,92.50 L333.95,92.16 L334.60,91.82 L335.25,91.48 L335.89,91.15 L336.54,90.82 L337.19,90.49 L337.84,90.16 L338.49,89.84 L339.14,89.52 L339.79,89.21 L340.44,88.89 L341.09,88.59 L341.74,88.28 L342.39,87.98 L343.04,87.68 L343.68,87.38 L344.33,87.09 L344.98,86.80 L345.63,86.52 L346.28,86.24 L346.93,85.96 L347.58,85.68 L348.23,85.41 L348.88,85.14 L349.53,84.88 L350.18,84.62 L350.82,84.36 L351.47,84.10 L352.12,83.85 L352.77,83.61 L353.42,83.36 L354.07,83.12 L354.72,82.89 L355.37,82.65 L356.02,82.43 L356.67,82.20 L357.32,81.98 L357.96,81.76 L358.61,81.55 L359.26,81.34 L359.91,81.13 L360.56,80.93 L361.21,80.73 L361.86,80.53 L362.51,80.34 L363.16,80.15 L363.81,79.97 L364.46,79.79 L365.11,79.61 L365.75,79.44 L366.40,79.27 L367.05,79.10 L367.70,78.94 L368.35,78.79 L369.00,78.63 L369.65,78.49 L370.30,78.34 L370.95,78.20 L371.60,78.06 L372.25,77.93 L372.89,77.80 L373.54,77.68 L374.19,77.56 L374.84,77.44 L375.49,77.33 L376.14,77.22 L376.79,77.11 L377.44,77.01 L378.09,76.92 L378.74,76.83 L379.39,76.74 L380.04,76.65 L380.68,76.58 L381.33,76.50 L381.98,76.43 L382.63,76.36 L383.28,76.30 L383.93,76.24 L384.58,76.19 L385.23,76.14 L385.88,76.10 L386.53,76.06 L387.18,76.02 L387.82,75.99 L388.47,75.96 L389.12,75.94 L389.77,75.92 L390.42,75.91 L391.07,75.90 L391.72,75.89 L392.37,75.89 L393.02,75.90 L393.67,75.91 L394.32,75.92 L394.96,75.94 L395.61,75.96 L396.26,75.99 L396.91,76.02 L397.56,76.05 L398.21,76.10 L398.86,76.14 L399.51,76.19 L400.16,76.25 L400.81,76.31 L401.46,76.37 L402.11,76.44 L402.75,76.51 L403.40,76.59 L404.05,76.68 L404.70,76.76 L405.35,76.86 L406.00,76.96" stroke="#2a2aff" stroke-width="1.0"/>
<path d="M147.00,275.35 L147.65,274.78 L148.30,274.21 L148.95,273.64 L149.60,273.07 L150.25,272.49 L150.89,271.92 L151.54,271.34 L152.19,270.76 L152.84,270.18 L153.49,269.59 L154.14,269.01 L154.79,268.42 L155.44,267.84 L156.09,267.25 L156.74,266.66 L157.39,266.06 L158.04,265.47 L158.68,264.88 L159.33,264.28 L159.98,263.68 L160.63,263.08 L161.28,262.48 L161.93,261.88 L162.58,261.27 L163.23,260.67 L163.88,260.06 L164.53,259.45 L165.18,258.84 L165.82,258.23 L166.47,257.62 L167.12,257.01 L167.77,256.39 L168.42,255.78 L169.07,255.16 L169.72,254.54 L170.37,253.92 L171.02,253.30 L171.67,252.68 L172.32,252.06 L172.96,251.43 L173.61,250.81 L174.26,250.18 L174.91,249.55 L175.56,248.92 L176.21,248.30 L176.86,247.66 L177.51,247.03 L178.16,246.40 L178.81,245.77 L179.46,245.13 L180.11,244.50 L180.75,243.86 L181.40,243.22 L182.05,242.59 L182.70,241.95 L183.35,241.31 L184.00,240.67 L184.65,240.02 L185.30,239.38 L185.95,238.74 L186.60,238.10 L187.25,237.45 L187.89,236.80 L188.54,236.16 L189.19,235.51 L189.84,234.86 L190.49,234.22 L191.14,233.57 L191.79,232.92 L192.44,232.27 L193.09,231.62 L193.74,230.97 L194.39,230.31 L195.04,229.66 L195.68,229.01 L196.33,228.35 L196.98,227.70 L197.63,227.05 L198.28,226.39 L198.93,225.73 L199.58,225.08 L200.23,224.42 L200.88,223.77 L201.53,223.11 L202.18,222.45 L202.82,221.79 L203.47,221.13 L204.12,220.48 L204.77,219.82 L205.42,219.16 L206.07,218.50 L206.72,217.84 L207.37,217.18 L208.02,216.52 L208.67,215.86 L209.32,215.20 L209.96,214.54 L210.61,213.88 L211.26,213.21 L211.91,212.55 L212.56,211.89 L213.21,211.23 L213.86,210.57 L214.51,209.91 L215.16,209.25 L215.81,208.58 L216.46,207.92 L217.11,207.26 L217.75,206.60 L218.40,205.94 L219.05,205.28 L219.70,204.62 L220.35,203.95 L221.00,203.29 L221.65,202.63 L222.30,201.97 L222.95,201.31 L223.60,200.65 L224.25,199.99 L224.89,199.33 L225.54,198.67 L226.19,198.01 L226.84,197.35 L227.49,196.69 L228.14,196.03 L228.79,195.37 L229.44,194.71 L230.09,194.06 L230.74,193.40 L231.39,192.74 L232.04,192.09 L232.68,191.43 L233.33,190.77 L233.98,190.12 L234.63,189.46 L235.28,188.81 L235.93,188.15 L236.58,187.50 L237.23,186.85 L237.88,186.20 L238.53,185.54 L239.18,184.89 L239.82,184.24 L240.47,183.59 L241.12,182.94 L241.77,182.29 L242.42,181.65 L243.07,181.00 L243.72,180.35 L244.37,179.71 L245.02,179.06 L245.67,178.42 L246.32,177.77 L246.96,177.13 L247.61,176.49 L248.26,175.84 L248.91,175.20 L249.56,174.56 L250.21,173.93 L250.86,173.29 L251.51,172.65 L252.16,172.01 L252.81,171.38 L253.46,170.75 L254.11,170.11 L254.75,169.48 L255.40,168.85 L256.05,168.22 L256.70,167.59 L257.35,166.96 L258.00,166.33 L258.65,165.71 L259.30,165.08 L259.95,164.46 L260.60,163.84 L261.25,163.21 L261.89,162.59 L262.54,161.97 L263.19,161.36 L263.84,160.74 L264.49,160.12 L265.14,159.51 L265.79,158.90 L266.44,158.28 L267.09,157.67 L267.74,157.07 L268.39,156.46 L269.04,155.85 L269.68,155.25 L270.33,154.64 L270.98,154.04 L271.63,153.44 L272.28,152.84 L272.93,152.24 L273.58,151.65 L274.23,151.05 L274.88,150.46 L275.53,149.86 L276.18,149.27 L276.82,148.69 L277.47,148.10 L278.12,147.51 L278.77,146.93 L279.42,146.35 L280.07,145.76 L280.72,145.19 L281.37,144.61 L282.02,144.03 L282.67,143.46 L283.32,142.88 L283.96,142.31 L284.61,141.75 L285.26,141.18 L285.91,140.61 L286.56,140.05 L287.21,139.49 L287.86,138.93 L288.51,138.37 L289.16,137.81 L289.81,137.26 L290.46,136.71 L291.11,136.16 L291.75,135.61 L292.40,135.06 L293.05,134.52 L293.70,133.97 L294.35,133.43 L295.00,132.89 L295.65,132.36 L296.30,131.82 L296.95,131.29 L297.60,130.76 L298.25,130.23 L298.89,129.71 L299.54,129.18 L300.19,128.66 L300.84,128.14 L301.49,127.62 L302.14,127.11 L302.79,126.59 L303.44,126.08 L304.09,125.57 L304.74,125.07 L305.39,124.56 L306.04,124.06 L306.68,123.56 L307.33,123.07 L307.98,122.57 L308.63,122.08 L309.28,121.59 L309.93,121.10 L310.58,120.62 L311.23,120.13 L311.88,119.65 L312.53,119.18 L313.18,118.70 L313.82,118.23 L314.47,117.76 L315.12,117.29 L315.77,116.83 L316.42,116.36 L317.07,115.90 L317.72,115.45 L318.37,114.99 L319.02,114.54 L319.67,114.09 L320.32,113.64 L320.96,113.20 L321.61,112.76 L322.26,112.32 L322.91,111.88 L323.56,111.45 L324.21,111.02 L324.86,110.59 L325.51,110.17 L326.16,109.75 L326.81,109.33 L327.46,108.91 L328.11,108.50 L328.75,108.09 L329.40,107.68 L330.05,107.28 L330.70,106.87 L331.35,106.48 L332.00,106.08 L332.65,105.69 L333.30,105.30 L333.95,104.91 L334.60,104.53 L335.25,104.15 L335.89,103.77 L336.54,103.39 L337.19,103.02 L337.84,102.66 L338.49,102.29 L339.14,101.93 L339.79,101.57 L340.44,101.21 L341.09,100.86 L341.74,100.51 L342.39,100.17 L343.04,99.83 L343.68,99.49 L344.33,99.15 L344.98,98.82 L345.63,98.49 L346.28,98.16 L346.93,97.84 L347.58,97.52 L348.23,97.21 L348.88,96.89 L349.53,96.58 L350.18,96.28 L350.82,95.98 L351.47,95.68 L352.12,95.38 L352.77,95.09 L353.42,94.80 L354.07,94.52 L354.72,94.24 L355.37,93.96 L356.02,93.69 L356.67,93.42 L357.32,93.15 L357.96,92.89 L358.61,92.63 L359.26,92.37 L359.91,92.12 L360.56,91.87 L361.21,91.63 L361.86,91.39 L362.51,91.15 L363.16,90.92 L363.81,90.69 L364.46,90.47 L365.11,90.24 L365.75,90.03 L366.40,89.81 L367.05,89.60 L367.70,89.40 L368.35,89.19 L369.00,89.00 L369.65,88.80 L370.30,88.61 L370.95,88.43 L371.60,88.24 L372.25,88.06 L372.89,87.89 L373.54,87.72 L374.19,87.55 L374.84,87.39 L375.49,87.23 L376.14,87.08 L376.79,86.93 L377.44,86.79 L378.09,86.64 L378.74,86.51 L379.39,86.37 L380.04,86.25 L380.68,86.12 L381.33,86.00 L381.98,85.88 L382.63,85.77 L383.28,85.67 L383.93,85.56 L384.58,85.46 L385.23,85.37 L385.88,85.28 L386.53,85.19 L387.18,85.11 L387.82,85.04 L388.47,84.96 L389.12,84.90 L389.77,84.83 L390.42,84.77 L391.07,84.72 L391.72,84.67 L392.37,84.62 L393.02,84.58 L393.67,84.55 L394.32,84.52 L394.96,84.49 L395.61,84.47 L396.26,84.45 L396.91,84.43 L397.56,84.43 L398.21,84.42 L398.86,84.42 L399.51,84.43 L400.16,84.44 L400.81,84.45 L401.46,84.47 L402.11,84.50 L402.75,84.53 L403.40,84.56 L404.05,84.60 L404.70,84.65 L405.35,84.70 L406.00,84.75" stroke="#2222ff" stroke-width="1.05" stroke-dasharray="2.5 1.35"/>
<path d="M267.30,279.56 L267.65,278.87 L267.99,278.18 L268.34,277.49 L268.69,276.79 L269.03,276.10 L269.38,275.41 L269.73,274.73 L270.07,274.04 L270.42,273.35 L270.77,272.66 L271.11,271.98 L271.46,271.29 L271.81,270.60 L272.15,269.92 L272.50,269.24 L272.85,268.55 L273.19,267.87 L273.54,267.19 L273.89,266.51 L274.23,265.82 L274.58,265.14 L274.93,264.46 L275.27,263.79 L275.62,263.11 L275.97,262.43 L276.31,261.75 L276.66,261.08 L277.01,260.40 L277.35,259.73 L277.70,259.05 L278.05,258.38 L278.39,257.71 L278.74,257.04 L279.08,256.36 L279.43,255.69 L279.78,255.02 L280.12,254.36 L280.47,253.69 L280.82,253.02 L281.16,252.35 L281.51,251.69 L281.86,251.02 L282.20,250.36 L282.55,249.69 L282.90,249.03 L283.24,248.37 L283.59,247.71 L283.94,247.05 L284.28,246.39 L284.63,245.73 L284.98,245.07 L285.32,244.41 L285.67,243.76 L286.02,243.10 L286.36,242.45 L286.71,241.79 L287.06,241.14 L287.40,240.49 L287.75,239.84 L288.10,239.19 L288.44,238.54 L288.79,237.89 L289.14,237.24 L289.48,236.59 L289.83,235.95 L290.18,235.30 L290.52,234.66 L290.87,234.01 L291.22,233.37 L291.56,232.73 L291.91,232.09 L292.26,231.45 L292.60,230.81 L292.95,230.17 L293.30,229.53 L293.64,228.90 L293.99,228.26 L294.34,227.63 L294.68,226.99 L295.03,226.36 L295.38,225.73 L295.72,225.10 L296.07,224.47 L296.42,223.84 L296.76,223.21 L297.11,222.59 L297.46,221.96 L297.80,221.34 L298.15,220.71 L298.50,220.09 L298.84,219.47 L299.19,218.85 L299.54,218.23 L299.88,217.61 L300.23,216.99 L300.58,216.38 L300.92,215.76 L301.27,215.15 L301.62,214.53 L301.96,213.92 L302.31,213.31 L302.65,212.70 L303.00,212.09 L303.35,211.48 L303.69,210.88 L304.04,210.27 L304.39,209.67 L304.73,209.06 L305.08,208.46 L305.43,207.86 L305.77,207.26 L306.12,206.66 L306.47,206.06 L306.81,205.46 L307.16,204.87 L307.51,204.27 L307.85,203.68 L308.20,203.09 L308.55,202.50 L308.89,201.91 L309.24,201.32 L309.59,200.73 L309.93,200.14 L310.28,199.56 L310.63,198.97 L310.97,198.39 L311.32,197.81 L311.67,197.23 L312.01,196.65 L312.36,196.07 L312.71,195.49 L313.05,194.92 L313.40,194.34 L313.75,193.77 L314.09,193.19 L314.44,192.62 L314.79,192.05 L315.13,191.49 L315.48,190.92 L315.83,190.35 L316.17,189.79 L316.52,189.22 L316.87,188.66 L317.21,188.10 L317.56,187.54 L317.91,186.98 L318.25,186.43 L318.60,185.87 L318.95,185.31 L319.29,184.76 L319.64,184.21 L319.99,183.66 L320.33,183.11 L320.68,182.56 L321.03,182.01 L321.37,181.47 L321.72,180.93 L322.07,180.38 L322.41,179.84 L322.76,179.30 L323.11,178.76 L323.45,178.23 L323.80,177.69 L324.15,177.16 L324.49,176.62 L324.84,176.09 L325.18,175.56 L325.53,175.03 L325.88,174.50 L326.22,173.98 L326.57,173.45 L326.92,172.93 L327.26,172.41 L327.61,171.89 L327.96,171.37 L328.30,170.85 L328.65,170.33 L329.00,169.82 L329.34,169.30 L329.69,168.79 L330.04,168.28 L330.38,167.77 L330.73,167.27 L331.08,166.76 L331.42,166.26 L331.77,165.75 L332.12,165.25 L332.46,164.75 L332.81,164.25 L333.16,163.75 L333.50,163.26 L333.85,162.76 L334.20,162.27 L334.54,161.78 L334.89,161.29 L335.24,160.80 L335.58,160.32 L335.93,159.83 L336.28,159.35 L336.62,158.87 L336.97,158.39 L337.32,157.91 L337.66,157.43 L338.01,156.95 L338.36,156.48 L338.70,156.01 L339.05,155.54 L339.40,155.07 L339.74,154.60 L340.09,154.13 L340.44,153.67 L340.78,153.21 L341.13,152.75 L341.48,152.29 L341.82,151.83 L342.17,151.37 L342.52,150.92 L342.86,150.46 L343.21,150.01 L343.56,149.56 L343.90,149.11 L344.25,148.67 L344.60,148.22 L344.94,147.78 L345.29,147.34 L345.64,146.90 L345.98,146.46 L346.33,146.02 L346.68,145.59 L347.02,145.15 L347.37,144.72 L347.72,144.29 L348.06,143.87 L348.41,143.44 L348.75,143.02 L349.10,142.59 L349.45,142.17 L349.79,141.75 L350.14,141.33 L350.49,140.92 L350.83,140.50 L351.18,140.09 L351.53,139.68 L351.87,139.27 L352.22,138.87 L352.57,138.46 L352.91,138.06 L353.26,137.65 L353.61,137.25 L353.95,136.86 L354.30,136.46 L354.65,136.07 L354.99,135.67 L355.34,135.28 L355.69,134.89 L356.03,134.50 L356.38,134.12 L356.73,133.73 L357.07,133.35 L357.42,132.97 L357.77,132.59 L358.11,132.22 L358.46,131.84 L358.81,131.47 L359.15,131.10 L359.50,130.73 L359.85,130.36 L360.19,129.99 L360.54,129.63 L360.89,129.27 L361.23,128.91 L361.58,128.55 L361.93,128.19 L362.27,127.84 L362.62,127.48 L362.97,127.13 L363.31,126.78 L363.66,126.43 L364.01,126.09 L364.35,125.74 L364.70,125.40 L365.05,125.06 L365.39,124.72 L365.74,124.39 L366.09,124.05 L366.43,123.72 L366.78,123.39 L367.13,123.06 L367.47,122.73 L367.82,122.41 L368.17,122.08 L368.51,121.76 L368.86,121.44 L369.21,121.12 L369.55,120.81 L369.90,120.49 L370.25,120.18 L370.59,119.87 L370.94,119.56 L371.28,119.26 L371.63,118.95 L371.98,118.65 L372.32,118.35 L372.67,118.05 L373.02,117.75 L373.36,117.46 L373.71,117.16 L374.06,116.87 L374.40,116.58 L374.75,116.29 L375.10,116.01 L375.44,115.72 L375.79,115.44 L376.14,115.16 L376.48,114.89 L376.83,114.61 L377.18,114.34 L377.52,114.06 L377.87,113.79 L378.22,113.52 L378.56,113.26 L378.91,112.99 L379.26,112.73 L379.60,112.47 L379.95,112.21 L380.30,111.96 L380.64,111.70 L380.99,111.45 L381.34,111.20 L381.68,110.95 L382.03,110.70 L382.38,110.46 L382.72,110.22 L383.07,109.97 L383.42,109.74 L383.76,109.50 L384.11,109.26 L384.46,109.03 L384.80,108.80 L385.15,108.57 L385.50,108.34 L385.84,108.12 L386.19,107.90 L386.54,107.68 L386.88,107.46 L387.23,107.24 L387.58,107.03 L387.92,106.81 L388.27,106.60 L388.62,106.39 L388.96,106.19 L389.31,105.98 L389.66,105.78 L390.00,105.58 L390.35,105.38 L390.70,105.18 L391.04,104.99 L391.39,104.79 L391.74,104.60 L392.08,104.42 L392.43,104.23 L392.78,104.04 L393.12,103.86 L393.47,103.68 L393.82,103.50 L394.16,103.33 L394.51,103.15 L394.85,102.98 L395.20,102.81 L395.55,102.64 L395.89,102.48 L396.24,102.31 L396.59,102.15 L396.93,101.99 L397.28,101.83 L397.63,101.68 L397.97,101.52 L398.32,101.37 L398.67,101.22 L399.01,101.08 L399.36,100.93 L399.71,100.79 L400.05,100.65 L400.40,100.51 L400.75,100.37 L401.09,100.24 L401.44,100.10 L401.79,99.97 L402.13,99.84 L402.48,99.72 L402.83,99.59 L403.17,99.47 L403.52,99.35 L403.87,99.23 L404.21,99.12 L404.56,99.01 L404.91,98.89 L405.25,98.78 L405.60,98.68" stroke="#000" stroke-width="1.12" stroke-dasharray="2.5 1.35"/>
<path d="M268.60,279.17 L268.94,278.51 L269.29,277.85 L269.63,277.20 L269.97,276.54 L270.32,275.89 L270.66,275.24 L271.00,274.58 L271.35,273.93 L271.69,273.28 L272.03,272.63 L272.38,271.98 L272.72,271.33 L273.06,270.68 L273.41,270.03 L273.75,269.38 L274.09,268.73 L274.44,268.09 L274.78,267.44 L275.12,266.79 L275.47,266.15 L275.81,265.50 L276.15,264.86 L276.50,264.22 L276.84,263.57 L277.18,262.93 L277.53,262.29 L277.87,261.65 L278.21,261.01 L278.56,260.37 L278.90,259.73 L279.24,259.09 L279.59,258.46 L279.93,257.82 L280.27,257.18 L280.62,256.55 L280.96,255.91 L281.30,255.28 L281.65,254.65 L281.99,254.01 L282.33,253.38 L282.68,252.75 L283.02,252.12 L283.36,251.49 L283.71,250.86 L284.05,250.23 L284.39,249.61 L284.74,248.98 L285.08,248.36 L285.42,247.73 L285.77,247.11 L286.11,246.48 L286.45,245.86 L286.80,245.24 L287.14,244.62 L287.48,244.00 L287.83,243.38 L288.17,242.76 L288.51,242.14 L288.86,241.52 L289.20,240.91 L289.54,240.29 L289.89,239.68 L290.23,239.06 L290.57,238.45 L290.92,237.84 L291.26,237.23 L291.61,236.62 L291.95,236.01 L292.29,235.40 L292.64,234.79 L292.98,234.18 L293.32,233.58 L293.67,232.97 L294.01,232.37 L294.35,231.76 L294.70,231.16 L295.04,230.56 L295.38,229.96 L295.73,229.36 L296.07,228.76 L296.41,228.16 L296.76,227.56 L297.10,226.97 L297.44,226.37 L297.79,225.78 L298.13,225.19 L298.47,224.59 L298.82,224.00 L299.16,223.41 L299.50,222.82 L299.85,222.23 L300.19,221.65 L300.53,221.06 L300.88,220.47 L301.22,219.89 L301.56,219.30 L301.91,218.72 L302.25,218.14 L302.59,217.56 L302.94,216.98 L303.28,216.40 L303.62,215.82 L303.97,215.25 L304.31,214.67 L304.65,214.10 L305.00,213.52 L305.34,212.95 L305.68,212.38 L306.03,211.81 L306.37,211.24 L306.71,210.67 L307.06,210.10 L307.40,209.54 L307.74,208.97 L308.09,208.41 L308.43,207.84 L308.77,207.28 L309.12,206.72 L309.46,206.16 L309.80,205.60 L310.15,205.05 L310.49,204.49 L310.83,203.93 L311.18,203.38 L311.52,202.83 L311.86,202.27 L312.21,201.72 L312.55,201.17 L312.89,200.63 L313.24,200.08 L313.58,199.53 L313.92,198.99 L314.27,198.44 L314.61,197.90 L314.95,197.36 L315.30,196.82 L315.64,196.28 L315.98,195.74 L316.33,195.20 L316.67,194.67 L317.01,194.13 L317.36,193.60 L317.70,193.07 L318.04,192.54 L318.39,192.01 L318.73,191.48 L319.07,190.95 L319.42,190.43 L319.76,189.90 L320.10,189.38 L320.45,188.86 L320.79,188.34 L321.13,187.82 L321.48,187.30 L321.82,186.78 L322.16,186.27 L322.51,185.75 L322.85,185.24 L323.19,184.73 L323.54,184.21 L323.88,183.71 L324.22,183.20 L324.57,182.69 L324.91,182.19 L325.25,181.68 L325.60,181.18 L325.94,180.68 L326.28,180.18 L326.63,179.68 L326.97,179.18 L327.31,178.68 L327.66,178.19 L328.00,177.70 L328.34,177.20 L328.69,176.71 L329.03,176.22 L329.37,175.74 L329.72,175.25 L330.06,174.76 L330.40,174.28 L330.75,173.80 L331.09,173.32 L331.43,172.84 L331.78,172.36 L332.12,171.88 L332.46,171.41 L332.81,170.93 L333.15,170.46 L333.49,169.99 L333.84,169.52 L334.18,169.05 L334.52,168.58 L334.87,168.12 L335.21,167.65 L335.55,167.19 L335.90,166.73 L336.24,166.27 L336.58,165.81 L336.93,165.35 L337.27,164.90 L337.62,164.45 L337.96,163.99 L338.30,163.53 L338.65,163.06 L338.99,162.60 L339.33,162.14 L339.68,161.68 L340.02,161.22 L340.36,160.76 L340.71,160.31 L341.05,159.85 L341.39,159.40 L341.74,158.95 L342.08,158.50 L342.42,158.05 L342.77,157.60 L343.11,157.16 L343.45,156.71 L343.80,156.27 L344.14,155.83 L344.48,155.39 L344.83,154.96 L345.17,154.52 L345.51,154.09 L345.86,153.65 L346.20,153.22 L346.54,152.79 L346.89,152.37 L347.23,151.94 L347.57,151.52 L347.92,151.09 L348.26,150.67 L348.60,150.25 L348.95,149.84 L349.29,149.42 L349.63,149.01 L349.98,148.59 L350.32,148.18 L350.66,147.78 L351.01,147.37 L351.35,146.97 L351.69,146.57 L352.04,146.17 L352.38,145.77 L352.72,145.38 L353.07,144.98 L353.41,144.59 L353.75,144.20 L354.10,143.81 L354.44,143.42 L354.78,143.04 L355.13,142.65 L355.47,142.27 L355.81,141.89 L356.16,141.51 L356.50,141.14 L356.84,140.76 L357.19,140.39 L357.53,140.01 L357.87,139.64 L358.22,139.28 L358.56,138.91 L358.90,138.55 L359.25,138.18 L359.59,137.82 L359.93,137.46 L360.28,137.11 L360.62,136.75 L360.96,136.40 L361.31,136.04 L361.65,135.69 L361.99,135.34 L362.34,135.00 L362.68,134.65 L363.02,134.31 L363.37,133.97 L363.71,133.63 L364.05,133.29 L364.40,132.97 L364.74,132.65 L365.08,132.33 L365.43,132.01 L365.77,131.69 L366.11,131.38 L366.46,131.07 L366.80,130.75 L367.14,130.45 L367.49,130.14 L367.83,129.83 L368.17,129.53 L368.52,129.23 L368.86,128.93 L369.20,128.63 L369.55,128.34 L369.89,128.04 L370.23,127.75 L370.58,127.46 L370.92,127.17 L371.26,126.89 L371.61,126.60 L371.95,126.32 L372.29,126.04 L372.64,125.76 L372.98,125.49 L373.32,125.21 L373.67,124.94 L374.01,124.67 L374.35,124.40 L374.70,124.13 L375.04,123.87 L375.38,123.61 L375.73,123.35 L376.07,123.09 L376.41,122.83 L376.76,122.58 L377.10,122.33 L377.44,122.08 L377.79,121.83 L378.13,121.58 L378.47,121.34 L378.82,121.10 L379.16,120.86 L379.50,120.62 L379.85,120.38 L380.19,120.15 L380.53,119.92 L380.88,119.69 L381.22,119.46 L381.56,119.24 L381.91,119.01 L382.25,118.79 L382.59,118.57 L382.94,118.36 L383.28,118.14 L383.63,117.93 L383.97,117.72 L384.31,117.51 L384.66,117.30 L385.00,117.10 L385.34,116.90 L385.69,116.70 L386.03,116.50 L386.37,116.30 L386.72,116.11 L387.06,115.92 L387.40,115.73 L387.75,115.54 L388.09,115.36 L388.43,115.18 L388.78,115.00 L389.12,114.82 L389.46,114.64 L389.81,114.47 L390.15,114.30 L390.49,114.13 L390.84,113.96 L391.18,113.80 L391.52,113.63 L391.87,113.47 L392.21,113.32 L392.55,113.16 L392.90,113.01 L393.24,112.85 L393.58,112.71 L393.93,112.56 L394.27,112.41 L394.61,112.27 L394.96,112.13 L395.30,111.99 L395.64,111.86 L395.99,111.73 L396.33,111.59 L396.67,111.47 L397.02,111.34 L397.36,111.22 L397.70,111.09 L398.05,110.97 L398.39,110.86 L398.73,110.74 L399.08,110.63 L399.42,110.52 L399.76,110.41 L400.11,110.31 L400.45,110.21 L400.79,110.10 L401.14,110.01 L401.48,109.91 L401.82,109.82 L402.17,109.73 L402.51,109.64 L402.85,109.55 L403.20,109.47 L403.54,109.39 L403.88,109.31 L404.23,109.23 L404.57,109.16 L404.91,109.08 L405.26,109.01 L405.60,108.95 L405.60,111.24 L405.26,111.31 L404.91,111.38 L404.57,111.45 L404.23,111.52 L403.88,111.60 L403.54,111.67 L403.20,111.75 L402.85,111.84 L402.51,111.92 L402.17,112.01 L401.82,112.10 L401.48,112.19 L401.14,112.28 L400.79,112.38 L400.45,112.48 L400.11,112.58 L399.76,112.68 L399.42,112.79 L399.08,112.90 L398.73,113.01 L398.39,113.12 L398.05,113.24 L397.70,113.35 L397.36,113.47 L397.02,113.60 L396.67,113.72 L396.33,113.85 L395.99,113.98 L395.64,114.11 L395.30,114.24 L394.96,114.38 L394.61,114.52 L394.27,114.66 L393.93,114.80 L393.58,114.95 L393.24,115.09 L392.90,115.24 L392.55,115.40 L392.21,115.55 L391.87,115.71 L391.52,115.86 L391.18,116.03 L390.84,116.19 L390.49,116.35 L390.15,116.52 L389.81,116.69 L389.46,116.86 L389.12,117.04 L388.78,117.21 L388.43,117.39 L388.09,117.57 L387.75,117.76 L387.40,117.94 L387.06,118.13 L386.72,118.32 L386.37,118.51 L386.03,118.70 L385.69,118.90 L385.34,119.10 L385.00,119.30 L384.66,119.50 L384.31,119.71 L383.97,119.91 L383.63,120.12 L383.28,120.33 L382.94,120.55 L382.59,120.76 L382.25,120.98 L381.91,121.20 L381.56,121.42 L381.22,121.64 L380.88,121.87 L380.53,122.10 L380.19,122.33 L379.85,122.56 L379.50,122.79 L379.16,123.03 L378.82,123.27 L378.47,123.51 L378.13,123.75 L377.79,123.99 L377.44,124.24 L377.10,124.49 L376.76,124.74 L376.41,124.99 L376.07,125.25 L375.73,125.50 L375.38,125.76 L375.04,126.02 L374.70,126.28 L374.35,126.55 L374.01,126.82 L373.67,127.08 L373.32,127.36 L372.98,127.63 L372.64,127.90 L372.29,128.18 L371.95,128.46 L371.61,128.74 L371.26,129.02 L370.92,129.30 L370.58,129.59 L370.23,129.88 L369.89,130.17 L369.55,130.46 L369.20,130.76 L368.86,131.05 L368.52,131.35 L368.17,131.65 L367.83,131.95 L367.49,132.25 L367.14,132.56 L366.80,132.87 L366.46,133.18 L366.11,133.49 L365.77,133.80 L365.43,134.12 L365.08,134.43 L364.74,134.75 L364.40,135.07 L364.05,135.39 L363.71,135.71 L363.37,136.02 L363.02,136.34 L362.68,136.66 L362.34,136.98 L361.99,137.30 L361.65,137.63 L361.31,137.95 L360.96,138.28 L360.62,138.61 L360.28,138.94 L359.93,139.27 L359.59,139.61 L359.25,139.94 L358.90,140.28 L358.56,140.62 L358.22,140.96 L357.87,141.31 L357.53,141.65 L357.19,142.00 L356.84,142.35 L356.50,142.70 L356.16,143.05 L355.81,143.41 L355.47,143.76 L355.13,144.12 L354.78,144.48 L354.44,144.84 L354.10,145.20 L353.75,145.57 L353.41,145.93 L353.07,146.30 L352.72,146.67 L352.38,147.04 L352.04,147.42 L351.69,147.79 L351.35,148.17 L351.01,148.55 L350.66,148.93 L350.32,149.31 L349.98,149.69 L349.63,150.07 L349.29,150.45 L348.95,150.84 L348.60,151.23 L348.26,151.61 L347.92,152.00 L347.57,152.39 L347.23,152.79 L346.89,153.18 L346.54,153.58 L346.20,153.98 L345.86,154.37 L345.51,154.78 L345.17,155.18 L344.83,155.58 L344.48,155.99 L344.14,156.40 L343.80,156.80 L343.45,157.21 L343.11,157.63 L342.77,158.04 L342.42,158.46 L342.08,158.87 L341.74,159.29 L341.39,159.71 L341.05,160.13 L340.71,160.55 L340.36,160.98 L340.02,161.40 L339.68,161.83 L339.33,162.26 L338.99,162.69 L338.65,163.12 L338.30,163.56 L337.96,163.99 L337.62,164.45 L337.27,164.90 L336.93,165.35 L336.58,165.81 L336.24,166.27 L335.90,166.73 L335.55,167.19 L335.21,167.65 L334.87,168.12 L334.52,168.58 L334.18,169.05 L333.84,169.52 L333.49,169.99 L333.15,170.46 L332.81,170.93 L332.46,171.41 L332.12,171.88 L331.78,172.36 L331.43,172.84 L331.09,173.32 L330.75,173.80 L330.40,174.28 L330.06,174.76 L329.72,175.25 L329.37,175.74 L329.03,176.22 L328.69,176.71 L328.34,177.20 L328.00,177.70 L327.66,178.19 L327.31,178.68 L326.97,179.18 L326.63,179.68 L326.28,180.18 L325.94,180.68 L325.60,181.18 L325.25,181.68 L324.91,182.19 L324.57,182.69 L324.22,183.20 L323.88,183.71 L323.54,184.21 L323.19,184.73 L322.85,185.24 L322.51,185.75 L322.16,186.27 L321.82,186.78 L321.48,187.30 L321.13,187.82 L320.79,188.34 L320.45,188.86 L320.10,189.38 L319.76,189.90 L319.42,190.43 L319.07,190.95 L318.73,191.48 L318.39,192.01 L318.04,192.54 L317.70,193.07 L317.36,193.60 L317.01,194.13 L316.67,194.67 L316.33,195.20 L315.98,195.74 L315.64,196.28 L315.30,196.82 L314.95,197.36 L314.61,197.90 L314.27,198.44 L313.92,198.99 L313.58,199.53 L313.24,200.08 L312.89,200.63 L312.55,201.17 L312.21,201.72 L311.86,202.27 L311.52,202.83 L311.18,203.38 L310.83,203.93 L310.49,204.49 L310.15,205.05 L309.80,205.60 L309.46,206.16 L309.12,206.72 L308.77,207.28 L308.43,207.84 L308.09,208.41 L307.74,208.97 L307.40,209.54 L307.06,210.10 L306.71,210.67 L306.37,211.24 L306.03,211.81 L305.68,212.38 L305.34,212.95 L305.00,213.52 L304.65,214.10 L304.31,214.67 L303.97,215.25 L303.62,215.82 L303.28,216.40 L302.94,216.98 L302.59,217.56 L302.25,218.14 L301.91,218.72 L301.56,219.30 L301.22,219.89 L300.88,220.47 L300.53,221.06 L300.19,221.65 L299.85,222.23 L299.50,222.82 L299.16,223.41 L298.82,224.00 L298.47,224.59 L298.13,225.19 L297.79,225.78 L297.44,226.37 L297.10,226.97 L296.76,227.56 L296.41,228.16 L296.07,228.76 L295.73,229.36 L295.38,229.96 L295.04,230.56 L294.70,231.16 L294.35,231.76 L294.01,232.37 L293.67,232.97 L293.32,233.58 L292.98,234.18 L292.64,234.79 L292.29,235.40 L291.95,236.01 L291.61,236.62 L291.26,237.23 L290.92,237.84 L290.57,238.45 L290.23,239.06 L289.89,239.68 L289.54,240.29 L289.20,240.91 L288.86,241.52 L288.51,242.14 L288.17,242.76 L287.83,243.38 L287.48,244.00 L287.14,244.62 L286.80,245.24 L286.45,245.86 L286.11,246.48 L285.77,247.11 L285.42,247.73 L285.08,248.36 L284.74,248.98 L284.39,249.61 L284.05,250.23 L283.71,250.86 L283.36,251.49 L283.02,252.12 L282.68,252.75 L282.33,253.38 L281.99,254.01 L281.65,254.65 L281.30,255.28 L280.96,255.91 L280.62,256.55 L280.27,257.18 L279.93,257.82 L279.59,258.46 L279.24,259.09 L278.90,259.73 L278.56,260.37 L278.21,261.01 L277.87,261.65 L277.53,262.29 L277.18,262.93 L276.84,263.57 L276.50,264.22 L276.15,264.86 L275.81,265.50 L275.47,266.15 L275.12,266.79 L274.78,267.44 L274.44,268.09 L274.09,268.73 L273.75,269.38 L273.41,270.03 L273.06,270.68 L272.72,271.33 L272.38,271.98 L272.03,272.63 L271.69,273.28 L271.35,273.93 L271.00,274.58 L270.66,275.24 L270.32,275.89 L269.97,276.54 L269.63,277.20 L269.29,277.85 L268.94,278.51 L268.60,279.17Z" fill="#6c6c6c" stroke="none"/>
<path d="M268.60,279.17 L268.94,278.51 L269.29,277.85 L269.63,277.20 L269.97,276.54 L270.32,275.89 L270.66,275.24 L271.00,274.58 L271.35,273.93 L271.69,273.28 L272.03,272.63 L272.38,271.98 L272.72,271.33 L273.06,270.68 L273.41,270.03 L273.75,269.38 L274.09,268.73 L274.44,268.09 L274.78,267.44 L275.12,266.79 L275.47,266.15 L275.81,265.50 L276.15,264.86 L276.50,264.22 L276.84,263.57 L277.18,262.93 L277.53,262.29 L277.87,261.65 L278.21,261.01 L278.56,260.37 L278.90,259.73 L279.24,259.09 L279.59,258.46 L279.93,257.82 L280.27,257.18 L280.62,256.55 L280.96,255.91 L281.30,255.28 L281.65,254.65 L281.99,254.01 L282.33,253.38 L282.68,252.75 L283.02,252.12 L283.36,251.49 L283.71,250.86 L284.05,250.23 L284.39,249.61 L284.74,248.98 L285.08,248.36 L285.42,247.73 L285.77,247.11 L286.11,246.48 L286.45,245.86 L286.80,245.24 L287.14,244.62 L287.48,244.00 L287.83,243.38 L288.17,242.76 L288.51,242.14 L288.86,241.52 L289.20,240.91 L289.54,240.29 L289.89,239.68 L290.23,239.06 L290.57,238.45 L290.92,237.84 L291.26,237.23 L291.61,236.62 L291.95,236.01 L292.29,235.40 L292.64,234.79 L292.98,234.18 L293.32,233.58 L293.67,232.97 L294.01,232.37 L294.35,231.76 L294.70,231.16 L295.04,230.56 L295.38,229.96 L295.73,229.36 L296.07,228.76 L296.41,228.16 L296.76,227.56 L297.10,226.97 L297.44,226.37 L297.79,225.78 L298.13,225.19 L298.47,224.59 L298.82,224.00 L299.16,223.41 L299.50,222.82 L299.85,222.23 L300.19,221.65 L300.53,221.06 L300.88,220.47 L301.22,219.89 L301.56,219.30 L301.91,218.72 L302.25,218.14 L302.59,217.56 L302.94,216.98 L303.28,216.40 L303.62,215.82 L303.97,215.25 L304.31,214.67 L304.65,214.10 L305.00,213.52 L305.34,212.95 L305.68,212.38 L306.03,211.81 L306.37,211.24 L306.71,210.67 L307.06,210.10 L307.40,209.54 L307.74,208.97 L308.09,208.41 L308.43,207.84 L308.77,207.28 L309.12,206.72 L309.46,206.16 L309.80,205.60 L310.15,205.05 L310.49,204.49 L310.83,203.93 L311.18,203.38 L311.52,202.83 L311.86,202.27 L312.21,201.72 L312.55,201.17 L312.89,200.63 L313.24,200.08 L313.58,199.53 L313.92,198.99 L314.27,198.44 L314.61,197.90 L314.95,197.36 L315.30,196.82 L315.64,196.28 L315.98,195.74 L316.33,195.20 L316.67,194.67 L317.01,194.13 L317.36,193.60 L317.70,193.07 L318.04,192.54 L318.39,192.01 L318.73,191.48 L319.07,190.95 L319.42,190.43 L319.76,189.90 L320.10,189.38 L320.45,188.86 L320.79,188.34 L321.13,187.82 L321.48,187.30 L321.82,186.78 L322.16,186.27 L322.51,185.75 L322.85,185.24 L323.19,184.73 L323.54,184.21 L323.88,183.71 L324.22,183.20 L324.57,182.69 L324.91,182.19 L325.25,181.68 L325.60,181.18 L325.94,180.68 L326.28,180.18 L326.63,179.68 L326.97,179.18 L327.31,178.68 L327.66,178.19 L328.00,177.70 L328.34,177.20 L328.69,176.71 L329.03,176.22 L329.37,175.74 L329.72,175.25 L330.06,174.76 L330.40,174.28 L330.75,173.80 L331.09,173.32 L331.43,172.84 L331.78,172.36 L332.12,171.88 L332.46,171.41 L332.81,170.93 L333.15,170.46 L333.49,169.99 L333.84,169.52 L334.18,169.05 L334.52,168.58 L334.87,168.12 L335.21,167.65 L335.55,167.19 L335.90,166.73 L336.24,166.27 L336.58,165.81 L336.93,165.35 L337.27,164.90 L337.62,164.45 L337.96,163.99 L338.30,163.54 L338.65,163.09 L338.99,162.65 L339.33,162.20 L339.68,161.75 L340.02,161.31 L340.36,160.87 L340.71,160.43 L341.05,159.99 L341.39,159.55 L341.74,159.12 L342.08,158.68 L342.42,158.25 L342.77,157.82 L343.11,157.39 L343.45,156.96 L343.80,156.54 L344.14,156.11 L344.48,155.69 L344.83,155.27 L345.17,154.85 L345.51,154.43 L345.86,154.01 L346.20,153.60 L346.54,153.19 L346.89,152.77 L347.23,152.36 L347.57,151.96 L347.92,151.55 L348.26,151.14 L348.60,150.74 L348.95,150.34 L349.29,149.94 L349.63,149.54 L349.98,149.14 L350.32,148.75 L350.66,148.35 L351.01,147.96 L351.35,147.57 L351.69,147.18 L352.04,146.79 L352.38,146.41 L352.72,146.02 L353.07,145.64 L353.41,145.26 L353.75,144.88 L354.10,144.51 L354.44,144.13 L354.78,143.76 L355.13,143.39 L355.47,143.02 L355.81,142.65" stroke="#2e2e2e" stroke-width="0.95"/>
<path d="M268.60,279.45 L268.94,278.77 L269.29,278.09 L269.63,277.41 L269.97,276.72 L270.32,276.04 L270.66,275.36 L271.00,274.68 L271.35,274.01 L271.69,273.33 L272.03,272.65 L272.38,271.97 L272.72,271.30 L273.06,270.62 L273.41,269.95 L273.75,269.27 L274.09,268.60 L274.44,267.93 L274.78,267.26 L275.12,266.59 L275.47,265.92 L275.81,265.25 L276.15,264.58 L276.50,263.91 L276.84,263.24 L277.18,262.58 L277.53,261.91 L277.87,261.25 L278.21,260.58 L278.56,259.92 L278.90,259.26 L279.24,258.60 L279.59,257.94 L279.93,257.28 L280.27,256.62 L280.62,255.96 L280.96,255.30 L281.30,254.64 L281.65,253.99 L281.99,253.33 L282.33,252.68 L282.68,252.02 L283.02,251.37 L283.36,250.72 L283.71,250.07 L284.05,249.42 L284.39,248.77 L284.74,248.12 L285.08,247.47 L285.42,246.83 L285.77,246.18 L286.11,245.54 L286.45,244.89 L286.80,244.25 L287.14,243.61 L287.48,242.96 L287.83,242.32 L288.17,241.68 L288.51,241.04 L288.86,240.41 L289.20,239.77 L289.54,239.13 L289.89,238.50 L290.23,237.86 L290.57,237.23 L290.92,236.60 L291.26,235.97 L291.61,235.33 L291.95,234.70 L292.29,234.08 L292.64,233.45 L292.98,232.82 L293.32,232.19 L293.67,231.57 L294.01,230.95 L294.35,230.32 L294.70,229.70 L295.04,229.08 L295.38,228.46 L295.73,227.84 L296.07,227.22 L296.41,226.60 L296.76,225.99 L297.10,225.37 L297.44,224.76 L297.79,224.14 L298.13,223.53 L298.47,222.92 L298.82,222.31 L299.16,221.70 L299.50,221.09 L299.85,220.48 L300.19,219.88 L300.53,219.27 L300.88,218.67 L301.22,218.07 L301.56,217.46 L301.91,216.86 L302.25,216.26 L302.59,215.66 L302.94,215.06 L303.28,214.47 L303.62,213.87 L303.97,213.28 L304.31,212.68 L304.65,212.09 L305.00,211.50 L305.34,210.91 L305.68,210.32 L306.03,209.73 L306.37,209.14 L306.71,208.56 L307.06,207.97 L307.40,207.39 L307.74,206.80 L308.09,206.22 L308.43,205.64 L308.77,205.06 L309.12,204.48 L309.46,203.91 L309.80,203.33 L310.15,202.76 L310.49,202.18 L310.83,201.61 L311.18,201.04 L311.52,200.47 L311.86,199.90 L312.21,199.33 L312.55,198.76 L312.89,198.20 L313.24,197.63 L313.58,197.07 L313.92,196.51 L314.27,195.95 L314.61,195.39 L314.95,194.83 L315.30,194.27 L315.64,193.71 L315.98,193.16 L316.33,192.60 L316.67,192.05 L317.01,191.50 L317.36,190.95 L317.70,190.40 L318.04,189.85 L318.39,189.31 L318.73,188.76 L319.07,188.22 L319.42,187.67 L319.76,187.13 L320.10,186.59 L320.45,186.05 L320.79,185.52 L321.13,184.98 L321.48,184.44 L321.82,183.91 L322.16,183.38 L322.51,182.85 L322.85,182.32 L323.19,181.79 L323.54,181.26 L323.88,180.73 L324.22,180.21 L324.57,179.68 L324.91,179.16 L325.25,178.64 L325.60,178.12 L325.94,177.60 L326.28,177.08 L326.63,176.57 L326.97,176.05 L327.31,175.54 L327.66,175.03 L328.00,174.52 L328.34,174.01 L328.69,173.50 L329.03,172.99 L329.37,172.49 L329.72,171.98 L330.06,171.48 L330.40,170.98 L330.75,170.48 L331.09,169.98 L331.43,169.49 L331.78,168.99 L332.12,168.50 L332.46,168.00 L332.81,167.51 L333.15,167.02 L333.49,166.53 L333.84,166.05 L334.18,165.56 L334.52,165.08 L334.87,164.59 L335.21,164.11 L335.55,163.63 L335.90,163.15 L336.24,162.68 L336.58,162.20 L336.93,161.72 L337.27,161.25 L337.62,160.78 L337.96,160.31 L338.30,159.84 L338.65,159.37 L338.99,158.91 L339.33,158.44 L339.68,157.98 L340.02,157.52 L340.36,157.06 L340.71,156.60 L341.05,156.15 L341.39,155.69 L341.74,155.24 L342.08,154.78 L342.42,154.33 L342.77,153.88 L343.11,153.44 L343.45,152.99 L343.80,152.54 L344.14,152.10 L344.48,151.66 L344.83,151.22 L345.17,150.78 L345.51,150.34 L345.86,149.91 L346.20,149.47 L346.54,149.04 L346.89,148.61 L347.23,148.18 L347.57,147.75 L347.92,147.33 L348.26,146.90 L348.60,146.48 L348.95,146.06 L349.29,145.64 L349.63,145.22 L349.98,144.80 L350.32,144.39 L350.66,143.97 L351.01,143.56 L351.35,143.15 L351.69,142.74 L352.04,142.33 L352.38,141.93 L352.72,141.52 L353.07,141.12 L353.41,140.72 L353.75,140.32 L354.10,139.92 L354.44,139.53 L354.78,139.13 L355.13,138.74 L355.47,138.35 L355.81,137.96 L356.16,137.57 L356.50,137.19 L356.84,136.80 L357.19,136.42 L357.53,136.04 L357.87,135.66 L358.22,135.28 L358.56,134.91 L358.90,134.53 L359.25,134.16 L359.59,133.79 L359.93,133.42 L360.28,133.05 L360.62,132.69 L360.96,132.32 L361.31,131.96 L361.65,131.60 L361.99,131.24 L362.34,130.88 L362.68,130.53 L363.02,130.17 L363.37,129.82 L363.71,129.47 L364.05,129.12 L364.40,128.77 L364.74,128.43 L365.08,128.08 L365.43,127.74 L365.77,127.40 L366.11,127.06 L366.46,126.73 L366.80,126.39 L367.14,126.06 L367.49,125.73 L367.83,125.40 L368.17,125.07 L368.52,124.75 L368.86,124.42 L369.20,124.10 L369.55,123.78 L369.89,123.46 L370.23,123.14 L370.58,122.83 L370.92,122.52 L371.26,122.20 L371.61,121.89 L371.95,121.59 L372.29,121.28 L372.64,120.98 L372.98,120.67 L373.32,120.37 L373.67,120.07 L374.01,119.78 L374.35,119.48 L374.70,119.19 L375.04,118.90 L375.38,118.61 L375.73,118.32 L376.07,118.03 L376.41,117.75 L376.76,117.47 L377.10,117.19 L377.44,116.91 L377.79,116.63 L378.13,116.36 L378.47,116.09 L378.82,115.81 L379.16,115.55 L379.50,115.28 L379.85,115.01 L380.19,114.75 L380.53,114.49 L380.88,114.23 L381.22,113.97 L381.56,113.72 L381.91,113.46 L382.25,113.21 L382.59,112.96 L382.94,112.71 L383.28,112.47 L383.63,112.22 L383.97,111.98 L384.31,111.74 L384.66,111.50 L385.00,111.26 L385.34,111.03 L385.69,110.80 L386.03,110.57 L386.37,110.34 L386.72,110.11 L387.06,109.89 L387.40,109.67 L387.75,109.44 L388.09,109.23 L388.43,109.01 L388.78,108.79 L389.12,108.58 L389.46,108.37 L389.81,108.16 L390.15,107.96 L390.49,107.75 L390.84,107.55 L391.18,107.35 L391.52,107.15 L391.87,106.95 L392.21,106.76 L392.55,106.57 L392.90,106.37 L393.24,106.19 L393.58,106.00 L393.93,105.82 L394.27,105.63 L394.61,105.45 L394.96,105.27 L395.30,105.10 L395.64,104.92 L395.99,104.75 L396.33,104.58 L396.67,104.41 L397.02,104.25 L397.36,104.08 L397.70,103.92 L398.05,103.76 L398.39,103.60 L398.73,103.45 L399.08,103.30 L399.42,103.14 L399.76,103.00 L400.11,102.85 L400.45,102.70 L400.79,102.56 L401.14,102.42 L401.48,102.28 L401.82,102.14 L402.17,102.01 L402.51,101.88 L402.85,101.75 L403.20,101.62 L403.54,101.49 L403.88,101.37 L404.23,101.25 L404.57,101.13 L404.91,101.01 L405.26,100.90 L405.60,100.78" stroke="#ff1010" stroke-width="1.12" stroke-dasharray="2.5 1.35"/>
<path d="M269.80,279.11 L270.12,278.50 L270.44,277.89 L270.76,277.28 L271.09,276.67 L271.41,276.06 L271.73,275.45 L272.05,274.84 L272.37,274.23 L272.69,273.62 L273.01,273.02 L273.33,272.41 L273.66,271.80 L273.98,271.20 L274.30,270.59 L274.62,269.99 L274.94,269.39 L275.26,268.78 L275.58,268.18 L275.90,267.58 L276.23,266.98 L276.55,266.38 L276.87,265.78 L277.19,265.18 L277.51,264.58 L277.83,263.99 L278.15,263.39 L278.48,262.79 L278.80,262.20 L279.12,261.60 L279.44,261.01 L279.76,260.41 L280.08,259.82 L280.40,259.23 L280.72,258.64 L281.05,258.04 L281.37,257.45 L281.69,256.86 L282.01,256.28 L282.33,255.69 L282.65,255.10 L282.97,254.51 L283.29,253.93 L283.62,253.34 L283.94,252.76 L284.26,252.17 L284.58,251.59 L284.90,251.01 L285.22,250.43 L285.54,249.84 L285.87,249.26 L286.19,248.68 L286.51,248.11 L286.83,247.53 L287.15,246.95 L287.47,246.37 L287.79,245.80 L288.11,245.22 L288.44,244.65 L288.76,244.07 L289.08,243.50 L289.40,242.93 L289.72,242.36 L290.04,241.79 L290.36,241.22 L290.68,240.65 L291.01,240.08 L291.33,239.51 L291.65,238.95 L291.97,238.38 L292.29,237.82 L292.61,237.25 L292.93,236.69 L293.26,236.13 L293.58,235.56 L293.90,235.00 L294.22,234.44 L294.54,233.88 L294.86,233.32 L295.18,232.77 L295.50,232.21 L295.83,231.65 L296.15,231.10 L296.47,230.55 L296.79,229.99 L297.11,229.44 L297.43,228.89 L297.75,228.34 L298.07,227.79 L298.40,227.24 L298.72,226.69 L299.04,226.14 L299.36,225.60 L299.68,225.05 L300.00,224.51 L300.32,223.96 L300.65,223.42 L300.97,222.88 L301.29,222.34 L301.61,221.80 L301.93,221.26 L302.25,220.72 L302.57,220.18 L302.89,219.64 L303.22,219.11 L303.54,218.57 L303.86,218.04 L304.18,217.51 L304.50,216.98 L304.82,216.45 L305.14,215.92 L305.46,215.39 L305.79,214.86 L306.11,214.33 L306.43,213.81 L306.75,213.28 L307.07,212.76 L307.39,212.23 L307.71,211.71 L308.04,211.19 L308.36,210.67 L308.68,210.15 L309.00,209.63 L309.32,209.11 L309.64,208.60 L309.96,208.08 L310.28,207.57 L310.61,207.05 L310.93,206.54 L311.25,206.03 L311.57,205.52 L311.89,205.01 L312.21,204.50 L312.53,204.00 L312.85,203.49 L313.18,202.98 L313.50,202.48 L313.82,201.98 L314.14,201.48 L314.46,200.97 L314.78,200.47 L315.10,199.98 L315.43,199.48 L315.75,198.98 L316.07,198.49 L316.39,197.99 L316.71,197.50 L317.03,197.01 L317.35,196.51 L317.67,196.02 L318.00,195.53 L318.32,195.05 L318.64,194.56 L318.96,194.07 L319.28,193.59 L319.60,193.10 L319.92,192.62 L320.24,192.14 L320.57,191.66 L320.89,191.18 L321.21,190.70 L321.53,190.23 L321.85,189.75 L322.17,189.28 L322.49,188.80 L322.82,188.33 L323.14,187.86 L323.46,187.39 L323.78,186.92 L324.10,186.45 L324.42,185.98 L324.74,185.52 L325.06,185.05 L325.39,184.59 L325.71,184.13 L326.03,183.67 L326.35,183.21 L326.67,182.75 L326.99,182.29 L327.31,181.84 L327.63,181.38 L327.96,180.93 L328.28,180.48 L328.60,180.02 L328.92,179.57 L329.24,179.13 L329.56,178.68 L329.88,178.23 L330.21,177.79 L330.53,177.34 L330.85,176.90 L331.17,176.46 L331.49,176.02 L331.81,175.58 L332.13,175.14 L332.45,174.70 L332.78,174.27 L333.10,173.83 L333.42,173.40 L333.74,172.97 L334.06,172.54 L334.38,172.11 L334.70,171.68 L335.02,171.26 L335.35,170.83 L335.67,170.41 L335.99,169.99 L336.31,169.56 L336.63,169.14 L336.95,168.73 L337.27,168.31 L337.59,167.89 L337.92,167.48 L338.24,167.06 L338.56,166.65 L338.88,166.24 L339.20,165.83 L339.52,165.42 L339.84,165.02 L340.17,164.61 L340.49,164.21 L340.81,163.80 L341.13,163.40 L341.45,163.00 L341.77,162.60 L342.09,162.20 L342.41,161.81 L342.74,161.41 L343.06,161.02 L343.38,160.63 L343.70,160.24 L344.02,159.85 L344.34,159.46 L344.66,159.07 L344.98,158.69 L345.31,158.31 L345.63,157.92 L345.95,157.54 L346.27,157.16 L346.59,156.78 L346.91,156.41 L347.23,156.03 L347.56,155.66 L347.88,155.29 L348.20,154.91 L348.52,154.54 L348.84,154.18 L349.16,153.81 L349.48,153.44 L349.80,153.08 L350.13,152.72 L350.45,152.36 L350.77,152.00 L351.09,151.64 L351.41,151.28 L351.73,150.93 L352.05,150.57 L352.37,150.22 L352.70,149.87 L353.02,149.52 L353.34,149.17 L353.66,148.83 L353.98,148.48 L354.30,148.14 L354.62,147.80 L354.95,147.46 L355.27,147.12 L355.59,146.78 L355.91,146.44 L356.23,146.11 L356.55,145.78 L356.87,145.45 L357.19,145.12 L357.52,144.79 L357.84,144.46 L358.16,144.14 L358.48,143.81 L358.80,143.49 L359.12,143.17 L359.44,142.85 L359.76,142.53 L360.09,142.22 L360.41,141.90 L360.73,141.59 L361.05,141.28 L361.37,140.97 L361.69,140.66 L362.01,140.35 L362.34,140.05 L362.66,139.74 L362.98,139.44 L363.30,139.14 L363.62,138.84 L363.94,138.55 L364.26,138.25 L364.58,137.96 L364.91,137.66 L365.23,137.37 L365.55,137.09 L365.87,136.80 L366.19,136.51 L366.51,136.23 L366.83,135.95 L367.15,135.66 L367.48,135.38 L367.80,135.11 L368.12,134.83 L368.44,134.56 L368.76,134.28 L369.08,134.01 L369.40,133.74 L369.73,133.48 L370.05,133.21 L370.37,132.95 L370.69,132.68 L371.01,132.42 L371.33,132.16 L371.65,131.90 L371.97,131.65 L372.30,131.39 L372.62,131.14 L372.94,130.89 L373.26,130.64 L373.58,130.39 L373.90,130.15 L374.22,129.90 L374.54,129.66 L374.87,129.42 L375.19,129.18 L375.51,128.94 L375.83,128.71 L376.15,128.47 L376.47,128.24 L376.79,128.01 L377.12,127.78 L377.44,127.56 L377.76,127.33 L378.08,127.11 L378.40,126.89 L378.72,126.67 L379.04,126.45 L379.36,126.23 L379.69,126.02 L380.01,125.81 L380.33,125.59 L380.65,125.38 L380.97,125.18 L381.29,124.97 L381.61,124.77 L381.93,124.57 L382.26,124.37 L382.58,124.17 L382.90,123.97 L383.22,123.78 L383.54,123.58 L383.86,123.39 L384.18,123.20 L384.51,123.01 L384.83,122.83 L385.15,122.64 L385.47,122.46 L385.79,122.28 L386.11,122.10 L386.43,121.93 L386.75,121.75 L387.08,121.58 L387.40,121.41 L387.72,121.24 L388.04,121.07 L388.36,120.91 L388.68,120.74 L389.00,120.58 L389.32,120.42 L389.65,120.26 L389.97,120.11 L390.29,119.95 L390.61,119.80 L390.93,119.65 L391.25,119.50 L391.57,119.36 L391.90,119.21 L392.22,119.07 L392.54,118.93 L392.86,118.79 L393.18,118.65 L393.50,118.52 L393.82,118.38 L394.14,118.25 L394.47,118.12 L394.79,118.00 L395.11,117.87 L395.43,117.75 L395.75,117.62 L396.07,117.51 L396.39,117.39 L396.71,117.27 L397.04,117.16 L397.36,117.05 L397.68,116.94 L398.00,116.83" stroke="#ff2a2a" stroke-width="1.1"/>
<path d="M305.80,278.72 L306.05,278.04 L306.30,277.36 L306.55,276.69 L306.80,276.01 L307.05,275.34 L307.30,274.67 L307.55,273.99 L307.80,273.32 L308.05,272.65 L308.30,271.99 L308.55,271.32 L308.80,270.65 L309.05,269.99 L309.30,269.32 L309.55,268.66 L309.80,268.00 L310.05,267.34 L310.30,266.68 L310.55,266.02 L310.80,265.36 L311.05,264.71 L311.30,264.05 L311.55,263.40 L311.80,262.74 L312.05,262.09 L312.30,261.44 L312.55,260.79 L312.80,260.14 L313.05,259.50 L313.30,258.85 L313.55,258.20 L313.80,257.56 L314.05,256.92 L314.30,256.27 L314.55,255.63 L314.80,254.99 L315.05,254.36 L315.30,253.72 L315.55,253.08 L315.81,252.45 L316.06,251.81 L316.31,251.18 L316.56,250.55 L316.81,249.92 L317.06,249.29 L317.31,248.66 L317.56,248.03 L317.81,247.40 L318.06,246.78 L318.31,246.16 L318.56,245.53 L318.81,244.91 L319.06,244.29 L319.31,243.67 L319.56,243.05 L319.81,242.43 L320.06,241.82 L320.31,241.20 L320.56,240.59 L320.81,239.97 L321.06,239.36 L321.31,238.75 L321.56,238.14 L321.81,237.53 L322.06,236.93 L322.31,236.32 L322.56,235.71 L322.81,235.11 L323.06,234.51 L323.31,233.91 L323.56,233.31 L323.81,232.71 L324.06,232.11 L324.31,231.51 L324.56,230.91 L324.81,230.32 L325.06,229.72 L325.31,229.13 L325.56,228.54 L325.81,227.95 L326.06,227.36 L326.31,226.77 L326.56,226.18 L326.81,225.60 L327.06,225.01 L327.31,224.43 L327.56,223.85 L327.81,223.26 L328.06,222.68 L328.31,222.10 L328.56,221.52 L328.81,220.95 L329.06,220.37 L329.31,219.80 L329.56,219.22 L329.81,218.65 L330.06,218.08 L330.31,217.51 L330.56,216.94 L330.81,216.37 L331.06,215.80 L331.31,215.24 L331.56,214.67 L331.81,214.11 L332.06,213.55 L332.31,212.98 L332.56,212.42 L332.81,211.86 L333.06,211.31 L333.31,210.75 L333.56,210.19 L333.81,209.64 L334.06,209.08 L334.31,208.53 L334.56,207.98 L334.81,207.43 L335.06,206.88 L335.31,206.33 L335.56,205.79 L335.82,205.24 L336.07,204.70 L336.32,204.15 L336.57,203.61 L336.82,203.07 L337.07,202.53 L337.32,201.99 L337.57,201.45 L337.82,200.92 L338.07,200.38 L338.32,199.85 L338.57,199.31 L338.82,198.78 L339.07,198.25 L339.32,197.72 L339.57,197.19 L339.82,196.66 L340.07,196.14 L340.32,195.61 L340.57,195.09 L340.82,194.56 L341.07,194.04 L341.32,193.52 L341.57,193.00 L341.82,192.48 L342.07,191.96 L342.32,191.45 L342.57,190.93 L342.82,190.42 L343.07,189.91 L343.32,189.39 L343.57,188.88 L343.82,188.37 L344.07,187.87 L344.32,187.36 L344.57,186.85 L344.82,186.35 L345.07,185.84 L345.32,185.34 L345.57,184.84 L345.82,184.34 L346.07,183.84 L346.32,183.34 L346.57,182.84 L346.82,182.35 L347.07,181.85 L347.32,181.36 L347.57,180.87 L347.82,180.38 L348.07,179.89 L348.32,179.40 L348.57,178.91 L348.82,178.42 L349.07,177.94 L349.32,177.45 L349.57,176.97 L349.82,176.49 L350.07,176.01 L350.32,175.53 L350.57,175.05 L350.82,174.57 L351.07,174.09 L351.32,173.62 L351.57,173.14 L351.82,172.67 L352.07,172.20 L352.32,171.73 L352.57,171.26 L352.82,170.79 L353.07,170.32 L353.32,169.86 L353.57,169.39 L353.82,168.93 L354.07,168.47 L354.32,168.00 L354.57,167.54 L354.82,167.08 L355.07,166.63 L355.32,166.17 L355.57,165.71 L355.83,165.26 L356.08,164.81 L356.33,164.35 L356.58,163.90 L356.83,163.45 L357.08,163.00 L357.33,162.56 L357.58,162.11 L357.83,161.66 L358.08,161.22 L358.33,160.78 L358.58,160.33 L358.83,159.89 L359.08,159.45 L359.33,159.02 L359.58,158.58 L359.83,158.14 L360.08,157.71 L360.33,157.27 L360.58,156.84 L360.83,156.41 L361.08,155.98 L361.33,155.55 L361.58,155.12 L361.83,154.69 L362.08,154.27 L362.33,153.84 L362.58,153.42 L362.83,153.00 L363.08,152.58 L363.33,152.16 L363.58,151.74 L363.83,151.32 L364.08,150.90 L364.33,150.49 L364.58,150.07 L364.83,149.66 L365.08,149.25 L365.33,148.84 L365.58,148.43 L365.83,148.02 L366.08,147.61 L366.33,147.21 L366.58,146.80 L366.83,146.40 L367.08,145.99 L367.33,145.59 L367.58,145.19 L367.83,144.79 L368.08,144.39 L368.33,144.00 L368.58,143.60 L368.83,143.21 L369.08,142.81 L369.33,142.42 L369.58,142.03 L369.83,141.64 L370.08,141.25 L370.33,140.86 L370.58,140.48 L370.83,140.09 L371.08,139.71 L371.33,139.33 L371.58,138.94 L371.83,138.56 L372.08,138.18 L372.33,137.81 L372.58,137.43 L372.83,137.05 L373.08,136.68 L373.33,136.30 L373.58,135.93 L373.83,135.56 L374.08,135.19 L374.33,134.82 L374.58,134.45 L374.83,134.09 L375.08,133.72 L375.33,133.36 L375.58,132.99 L375.84,132.63 L376.09,132.27 L376.34,131.91 L376.59,131.55 L376.84,131.20 L377.09,130.84 L377.34,130.49 L377.59,130.13 L377.84,129.78 L378.09,129.43 L378.34,129.08 L378.59,128.73 L378.84,128.38 L379.09,128.03 L379.34,127.69 L379.59,127.34 L379.84,127.00 L380.09,126.66 L380.34,126.32 L380.59,125.98 L380.84,125.64 L381.09,125.30 L381.34,124.97 L381.59,124.63 L381.84,124.30 L382.09,123.97 L382.34,123.63 L382.59,123.30 L382.84,122.98 L383.09,122.65 L383.34,122.32 L383.59,122.00 L383.84,121.67 L384.09,121.35 L384.34,121.03 L384.59,120.70 L384.84,120.39 L385.09,120.07 L385.34,119.75 L385.59,119.43 L385.84,119.12 L386.09,118.80 L386.34,118.49 L386.59,118.18 L386.84,117.87 L387.09,117.56 L387.34,117.25 L387.59,116.95 L387.84,116.64 L388.09,116.34 L388.34,116.03 L388.59,115.73 L388.84,115.43 L389.09,115.13 L389.34,114.83 L389.59,114.54 L389.84,114.24 L390.09,113.95 L390.34,113.65 L390.59,113.36 L390.84,113.07 L391.09,112.78 L391.34,112.49 L391.59,112.20 L391.84,111.91 L392.09,111.63 L392.34,111.34 L392.59,111.06 L392.84,110.78 L393.09,110.50 L393.34,110.22 L393.59,109.94 L393.84,109.66 L394.09,109.39 L394.34,109.11 L394.59,108.84 L394.84,108.57 L395.09,108.30 L395.34,108.03 L395.59,107.76 L395.85,107.49 L396.10,107.22 L396.35,106.96 L396.60,106.70 L396.85,106.43 L397.10,106.17 L397.35,105.91 L397.60,105.65 L397.85,105.39 L398.10,105.14 L398.35,104.88 L398.60,104.63 L398.85,104.37 L399.10,104.12 L399.35,103.87 L399.60,103.62 L399.85,103.37 L400.10,103.12 L400.35,102.88 L400.60,102.63 L400.85,102.39 L401.10,102.15 L401.35,101.91 L401.60,101.67 L401.85,101.43 L402.10,101.19 L402.35,100.95 L402.60,100.72 L402.85,100.48 L403.10,100.25 L403.35,100.02 L403.60,99.79 L403.85,99.56 L404.10,99.33 L404.35,99.10 L404.60,98.88 L404.85,98.65 L405.10,98.43 L405.35,98.21 L405.60,97.99" stroke="#28e628" stroke-width="1.12" stroke-dasharray="2.5 1.35"/>
<path d="M307.60,279.69 L307.85,279.08 L308.09,278.48 L308.34,277.87 L308.58,277.26 L308.83,276.66 L309.07,276.06 L309.32,275.45 L309.56,274.85 L309.81,274.25 L310.06,273.65 L310.30,273.05 L310.55,272.45 L310.79,271.85 L311.04,271.25 L311.28,270.65 L311.53,270.06 L311.78,269.46 L312.02,268.87 L312.27,268.27 L312.51,267.68 L312.76,267.08 L313.00,266.49 L313.25,265.90 L313.49,265.31 L313.74,264.72 L313.99,264.13 L314.23,263.54 L314.48,262.96 L314.72,262.37 L314.97,261.78 L315.21,261.20 L315.46,260.61 L315.71,260.03 L315.95,259.45 L316.20,258.86 L316.44,258.28 L316.69,257.70 L316.93,257.12 L317.18,256.54 L317.42,255.96 L317.67,255.39 L317.92,254.81 L318.16,254.24 L318.41,253.66 L318.65,253.09 L318.90,252.51 L319.14,251.94 L319.39,251.37 L319.64,250.80 L319.88,250.23 L320.13,249.66 L320.37,249.09 L320.62,248.52 L320.86,247.95 L321.11,247.39 L321.35,246.82 L321.60,246.26 L321.85,245.70 L322.09,245.13 L322.34,244.57 L322.58,244.01 L322.83,243.45 L323.07,242.89 L323.32,242.33 L323.56,241.77 L323.81,241.22 L324.06,240.66 L324.30,240.11 L324.55,239.55 L324.79,239.00 L325.04,238.45 L325.28,237.89 L325.53,237.34 L325.78,236.79 L326.02,236.24 L326.27,235.70 L326.51,235.15 L326.76,234.60 L327.00,234.06 L327.25,233.51 L327.49,232.97 L327.74,232.43 L327.99,231.88 L328.23,231.34 L328.48,230.80 L328.72,230.26 L328.97,229.73 L329.21,229.19 L329.46,228.65 L329.71,228.12 L329.95,227.58 L330.20,227.05 L330.44,226.51 L330.69,225.98 L330.93,225.45 L331.18,224.92 L331.42,224.39 L331.67,223.86 L331.92,223.34 L332.16,222.81 L332.41,222.28 L332.65,221.76 L332.90,221.24 L333.14,220.71 L333.39,220.19 L333.64,219.67 L333.88,219.15 L334.13,218.63 L334.37,218.11 L334.62,217.60 L334.86,217.08 L335.11,216.57 L335.35,216.05 L335.60,215.54 L335.85,215.03 L336.09,214.52 L336.34,214.01 L336.58,213.50 L336.83,212.99 L337.07,212.48 L337.32,211.97 L337.56,211.47 L337.81,210.96 L338.06,210.46 L338.30,209.96 L338.55,209.46 L338.79,208.96 L339.04,208.46 L339.28,207.96 L339.53,207.46 L339.78,206.97 L340.02,206.47 L340.27,205.98 L340.51,205.48 L340.76,204.99 L341.00,204.50 L341.25,204.01 L341.49,203.52 L341.74,203.03 L341.99,202.54 L342.23,202.06 L342.48,201.57 L342.72,201.09 L342.97,200.60 L343.21,200.12 L343.46,199.64 L343.71,199.16 L343.95,198.68 L344.20,198.20 L344.44,197.73 L344.69,197.25 L344.93,196.78 L345.18,196.30 L345.42,195.83 L345.67,195.36 L345.92,194.89 L346.16,194.42 L346.41,193.95 L346.65,193.48 L346.90,193.02 L347.14,192.55 L347.39,192.09 L347.64,191.62 L347.88,191.16 L348.13,190.70 L348.37,190.24 L348.62,189.78 L348.86,189.32 L349.11,188.87 L349.35,188.41 L349.60,187.96 L349.85,187.50 L350.09,187.05 L350.34,186.60 L350.58,186.15 L350.83,185.70 L351.07,185.25 L351.32,184.81 L351.56,184.36 L351.81,183.92 L352.06,183.47 L352.30,183.03 L352.55,182.59 L352.79,182.15 L353.04,181.71 L353.28,181.27 L353.53,180.84 L353.78,180.40 L354.02,179.97 L354.27,179.53 L354.51,179.10 L354.76,178.67 L355.00,178.24 L355.25,177.81 L355.49,177.39 L355.74,176.96 L355.99,176.53 L356.23,176.11 L356.48,175.69 L356.72,175.27 L356.97,174.85 L357.21,174.43 L357.46,174.01 L357.71,173.59 L357.95,173.18 L358.20,172.76 L358.44,172.35 L358.69,171.94 L358.93,171.52 L359.18,171.11 L359.42,170.71 L359.67,170.30 L359.92,169.89 L360.16,169.49 L360.41,169.08 L360.65,168.68 L360.90,168.28 L361.14,167.88 L361.39,167.48 L361.64,167.08 L361.88,166.68 L362.13,166.29 L362.37,165.89 L362.62,165.50 L362.86,165.11 L363.11,164.72 L363.35,164.33 L363.60,163.94 L363.85,163.55 L364.09,163.17 L364.34,162.78 L364.58,162.40 L364.83,162.02 L365.07,161.64 L365.32,161.26 L365.56,160.88 L365.81,160.50 L366.06,160.13 L366.30,159.75 L366.55,159.38 L366.79,159.01 L367.04,158.64 L367.28,158.27 L367.53,157.90 L367.78,157.53 L368.02,157.16 L368.27,156.80 L368.51,156.44 L368.76,156.07 L369.00,155.71 L369.25,155.35 L369.49,154.99 L369.74,154.64 L369.99,154.28 L370.23,153.93 L370.48,153.57 L370.72,153.22 L370.97,152.87 L371.21,152.52 L371.46,152.17 L371.71,151.82 L371.95,151.48 L372.20,151.13 L372.44,150.79 L372.69,150.45 L372.93,150.10 L373.18,149.76 L373.42,149.43 L373.67,149.09 L373.92,148.75 L374.16,148.42 L374.41,148.08 L374.65,147.75 L374.90,147.42 L375.14,147.09 L375.39,146.76 L375.64,146.44 L375.88,146.11 L376.13,145.78 L376.37,145.46 L376.62,145.14 L376.86,144.82 L377.11,144.50 L377.35,144.18 L377.60,143.86 L377.85,143.55 L378.09,143.23 L378.34,142.92 L378.58,142.61 L378.83,142.30 L379.07,141.99 L379.32,141.68 L379.56,141.37 L379.81,141.07 L380.06,140.76 L380.30,140.46 L380.55,140.16 L380.79,139.86 L381.04,139.56 L381.28,139.26 L381.53,138.96 L381.78,138.67 L382.02,138.37 L382.27,138.08 L382.51,137.79 L382.76,137.50 L383.00,137.21 L383.25,136.92 L383.49,136.64 L383.74,136.35 L383.99,136.07 L384.23,135.79 L384.48,135.51 L384.72,135.23 L384.97,134.95 L385.21,134.67 L385.46,134.40 L385.71,134.12 L385.95,133.85 L386.20,133.58 L386.44,133.30 L386.69,133.04 L386.93,132.77 L387.18,132.50 L387.42,132.24 L387.67,131.97 L387.92,131.71 L388.16,131.45 L388.41,131.19 L388.65,130.93 L388.90,130.67 L389.14,130.41 L389.39,130.16 L389.64,129.91 L389.88,129.65 L390.13,129.40 L390.37,129.15 L390.62,128.91 L390.86,128.66 L391.11,128.41 L391.35,128.17 L391.60,127.93 L391.85,127.68 L392.09,127.44 L392.34,127.21 L392.58,126.97 L392.83,126.73 L393.07,126.50 L393.32,126.26 L393.56,126.03 L393.81,125.80 L394.06,125.57 L394.30,125.34 L394.55,125.11 L394.79,124.89 L395.04,124.66 L395.28,124.44 L395.53,124.22 L395.78,124.00 L396.02,123.78 L396.27,123.56 L396.51,123.35 L396.76,123.13 L397.00,122.92 L397.25,122.71 L397.49,122.50 L397.74,122.29 L397.99,122.08 L398.23,121.87 L398.48,121.67 L398.72,121.46 L398.97,121.26 L399.21,121.06 L399.46,120.86 L399.71,120.66 L399.95,120.46 L400.20,120.27 L400.44,120.07 L400.69,119.88 L400.93,119.69 L401.18,119.50 L401.42,119.31 L401.67,119.12 L401.92,118.93 L402.16,118.75 L402.41,118.56 L402.65,118.38 L402.90,118.20 L403.14,118.02 L403.39,117.84 L403.64,117.67 L403.88,117.49 L404.13,117.32 L404.37,117.14 L404.62,116.97 L404.86,116.80 L405.11,116.63 L405.35,116.47 L405.60,116.30" stroke="#34e02c" stroke-width="1.05"/>
</g>
<rect x="147.0" y="19.8" width="259.0" height="259.2" fill="none" stroke="#000" stroke-width="1.05"/>
<path d="M136.62,303.00 L136.62,293.67 L134.21,295.21 L134.21,294.06 L136.94,291.85 L138.05,291.85 L138.05,303.00Z" fill="#000"/><text x="141.52" y="303.00" font-size="16.2" fill="#000">0</text><text x="150.53" y="294.50" font-size="13.0" fill="#000">-5</text>
<path d="M222.96,303.00 L222.96,293.67 L220.54,295.21 L220.54,294.06 L223.27,291.85 L224.38,291.85 L224.38,303.00Z" fill="#000"/><text x="227.85" y="303.00" font-size="16.2" fill="#000">0</text><text x="236.86" y="294.50" font-size="13.0" fill="#000">-4</text>
<path d="M309.29,303.00 L309.29,293.67 L306.88,295.21 L306.88,294.06 L309.61,291.85 L310.71,291.85 L310.71,303.00Z" fill="#000"/><text x="314.19" y="303.00" font-size="16.2" fill="#000">0</text><text x="323.20" y="294.50" font-size="13.0" fill="#000">-3</text>
<path d="M395.62,303.00 L395.62,293.67 L393.21,295.21 L393.21,294.06 L395.94,291.85 L397.05,291.85 L397.05,303.00Z" fill="#000"/><text x="400.52" y="303.00" font-size="16.2" fill="#000">0</text><text x="409.53" y="294.50" font-size="13.0" fill="#000">-2</text>
<path d="M131.30,25.40 L131.30,16.07 L128.89,17.61 L128.89,16.46 L131.62,14.25 L132.73,14.25 L132.73,25.40Z" fill="#000"/>
<path d="M110.73,113.80 L110.73,104.47 L108.32,106.01 L108.32,104.86 L111.05,102.65 L112.16,102.65 L112.16,113.80Z" fill="#000"/><text x="115.63" y="113.80" font-size="16.2" fill="#000">0</text><text x="124.64" y="105.30" font-size="13.0" fill="#000">-</text><path d="M132.27,105.30 L132.27,97.81 L130.33,99.05 L130.33,98.13 L132.52,96.36 L133.41,96.36 L133.41,105.30Z" fill="#000"/>
<path d="M110.73,200.20 L110.73,190.87 L108.32,192.41 L108.32,191.26 L111.05,189.05 L112.16,189.05 L112.16,200.20Z" fill="#000"/><text x="115.63" y="200.20" font-size="16.2" fill="#000">0</text><text x="124.64" y="191.70" font-size="13.0" fill="#000">-2</text>
<path d="M110.73,286.60 L110.73,277.27 L108.32,278.81 L108.32,277.66 L111.05,275.45 L112.16,275.45 L112.16,286.60Z" fill="#000"/><text x="115.63" y="286.60" font-size="16.2" fill="#000">0</text><text x="124.64" y="278.10" font-size="13.0" fill="#000">-3</text>
<text x="249.20" y="328.30" font-size="16.2" fill="#000">ρ (fm</text><text x="286.31" y="319.80" font-size="13.0" fill="#000">-3</text><text x="297.87" y="328.30" font-size="16.2" fill="#000">)</text>
<g stroke="#000" stroke-width="1.35" fill="none" stroke-linecap="butt"><path d="M80.1,146.4L92.6,155.7M80.1,155.7L92.6,146.4"/><path d="M90.4,143.9H98.3Q100.0,143.9 100.0,145.6" stroke-width="1.15"/><path d="M87.6,143.9H89.0" stroke-width="1.15"/></g>
<text x="167.92" y="31.50" font-size="10.9" fill="#000">2</text><text x="174.58" y="37.20" font-size="13.6" fill="#000">H</text>
<text x="167.92" y="48.00" font-size="10.9" fill="#000">3</text><text x="174.58" y="53.70" font-size="13.6" fill="#000">H</text>
<text x="160.35" y="64.90" font-size="10.9" fill="#000">3</text><text x="167.01" y="70.60" font-size="13.6" fill="#000">He</text>
<text x="183.8" y="86.6" font-size="14.2" text-anchor="end" style="font-family:'Liberation Serif',serif">α</text>
<text x="154.22" y="107.20" font-size="13.6" fill="#000">VEoS</text>
<line x1="194.2" y1="32.05" x2="238.8" y2="32.05" stroke="#3030ff" stroke-width="1.0"/>
<line x1="194.2" y1="48.5" x2="238.8" y2="48.5" stroke="#000" stroke-width="0.7"/>
<line x1="194.2" y1="65.4" x2="238.8" y2="65.4" stroke="#ff0000" stroke-width="0.65"/>
<line x1="194.2" y1="81.9" x2="238.8" y2="81.9" stroke="#00f000" stroke-width="1.0"/>
<line x1="196.2" y1="102.5" x2="238.8" y2="102.5" stroke="#111" stroke-width="0.8" stroke-dasharray="2.4 1.1"/>
<text x="161.70" y="130.30" font-size="13.95" fill="#000">FSU, T=</text><path d="M217.56,130.30 L217.56,122.26 L215.48,123.59 L215.48,122.60 L217.83,120.70 L218.79,120.70 L218.79,130.30Z" fill="#000"/><text x="221.78" y="130.30" font-size="13.95" fill="#000">0 MeV</text>
<text x="162.30" y="154.90" font-size="13.6" fill="#000">y</text><text x="169.10" y="158.80" font-size="10.9" fill="#000">p</text><text x="175.16" y="154.90" font-size="13.6" fill="#000">=0.5</text>
<text x="162.30" y="194.80" font-size="13.6" fill="#000">δB</text><text x="178.94" y="198.70" font-size="10.9" fill="#000">j</text><text x="181.36" y="194.80" font-size="13.6" fill="#000">=0</text>
<text x="380.20" y="258.70" font-size="16" fill="#000">(b)</text>
<text x="345.60" y="63.60" font-size="8.7" fill="#0a0aff">2</text><text x="350.44" y="69.60" font-size="10.9" fill="#0a0aff">H</text>
<text x="345.60" y="113.60" font-size="8.7" fill="#111">3</text><text x="350.44" y="119.60" font-size="10.9" fill="#111">H</text>
<text x="311.20" y="210.60" font-size="8.7" fill="#ff1a1a">3</text><text x="316.04" y="216.60" font-size="10.9" fill="#ff1a1a">He</text>
<text x="371.2" y="170.6" font-size="12.6" fill="#22e022" style="font-family:'Liberation Serif',serif">α</text>
</svg>
</body></html>
